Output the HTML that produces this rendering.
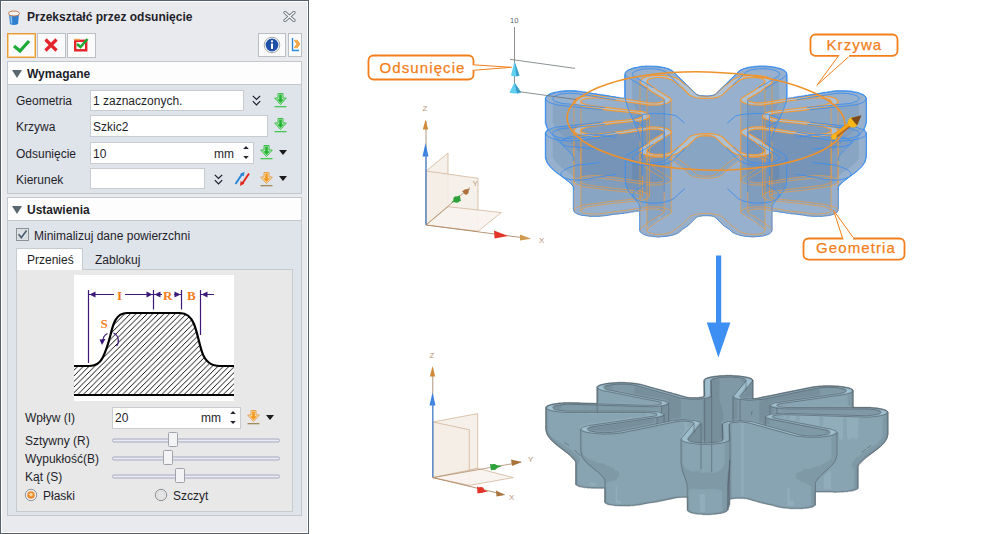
<!DOCTYPE html>
<html><head><meta charset="utf-8">
<style>
*{margin:0;padding:0;box-sizing:border-box}
html,body{width:1000px;height:534px;overflow:hidden;background:#fff;font-family:"Liberation Sans",sans-serif;font-size:12px;color:#1f1f2a}
.a{position:absolute}
#panel{left:0;top:0;width:309px;height:534px;background:#e9eaee;border:1px solid #56606b;box-shadow:inset 1px 1px 0 #fff,inset -1px -1px 0 #fff}
.btn{background:#fbfbfb;border:1px solid #b9bfc5}
.sec{left:7px;width:295px;border:1px solid #c3c8ce;background:#dfe3ea}
.sech{left:0;top:0;width:293px;height:23px;background:#fdfdfd;border-bottom:1px solid #c3c8ce}
.tri{width:0;height:0;border-left:5px solid transparent;border-right:5px solid transparent;border-top:8px solid #5b6770}
.inp{background:#fff;border:1px solid #c8ccd1}
.lbl{white-space:nowrap}
.b{font-weight:bold}
</style></head><body>
<div id="panel" class="a">
</div>
<svg width="0" height="0" style="position:absolute">
<defs>
<symbol id="dl" viewBox="0 0 13 15">
  <path d="M4 0.5 H9 V5 H12.3 L6.5 11.5 L0.7 5 H4 Z" fill="#bfe8c0" stroke="#3cbf4a" stroke-width="1"/>
  <path d="M5.2 1.5 H7.8 V6.3 H9.8 L6.5 10 L3.2 6.3 H5.2 Z" fill="#26b437"/>
  <rect x="0.5" y="13" width="12" height="1.3" fill="#4cc557"/>
</symbol>
<symbol id="dlo" viewBox="0 0 13 15">
  <path d="M4 0.5 H9 V5 H12.3 L6.5 11.5 L0.7 5 H4 Z" fill="#fde3b5" stroke="#e2a052" stroke-width="1"/>
  <path d="M5.2 1.5 H7.8 V6.3 H9.8 L6.5 10 L3.2 6.3 H5.2 Z" fill="#f39a1e"/>
  <rect x="0.5" y="13" width="12" height="1.3" fill="#a08a5a"/>
</symbol>
<symbol id="chev" viewBox="0 0 9 11">
  <path d="M0.8 0.8 L4.5 4.5 L8.2 0.8 M0.8 6.2 L4.5 10 L8.2 6.2" fill="none" stroke="#1b1e2a" stroke-width="1.2"/>
</symbol>
<symbol id="dtri" viewBox="0 0 8 5"><path d="M0 0 H8 L4 5 Z" fill="#1b1b1b"/></symbol>
<symbol id="spin" viewBox="0 0 6 14"><path d="M0.2 3 L3 0 L5.8 3 Z M0.2 10 L3 13 L5.8 10 Z" fill="#22242c"/></symbol>
<symbol id="hatch" viewBox="0 0 1 1"></symbol>
</defs>
</svg>

<!-- title -->
<svg class="a" style="left:7px;top:10px" width="14" height="16" viewBox="0 0 14 16">
  <path d="M2 4 L3 14 Q7 16 11 14 L12 4 Z" fill="#2f7fd0"/>
  <path d="M4 5 L4.6 13.5" stroke="#8cc4f0" stroke-width="1.5"/>
  <ellipse cx="7" cy="3.5" rx="5.5" ry="2.5" fill="#f4f4f4" stroke="#c67a4a" stroke-width="1"/>
</svg>
<div class="a lbl b" style="left:27px;top:10px;font-size:12px">Przekształć przez odsunięcie</div>
<svg class="a" style="left:283px;top:11px" width="13" height="11" viewBox="0 0 13 11"><path d="M2 1.5 L11 9.5 M11 1.5 L2 9.5" stroke="#6f7880" stroke-width="3.2" stroke-linecap="round"/><path d="M2 1.5 L11 9.5 M11 1.5 L2 9.5" stroke="#fff" stroke-width="1.4" stroke-linecap="round"/></svg>

<!-- toolbar -->
<div class="a btn" style="left:7px;top:33px;width:29px;height:25px;border:1px solid #e59c3c;box-shadow:inset 0 0 0 1px #f9d08c"></div>
<svg class="a" style="left:12px;top:37px" width="20" height="18" viewBox="0 0 20 18"><path d="M2 9 L8 14 L17 4" fill="none" stroke="#1ea834" stroke-width="3.2"/></svg>
<div class="a btn" style="left:37px;top:33px;width:29px;height:25px"></div>
<svg class="a" style="left:43px;top:37px" width="16" height="16" viewBox="0 0 16 16"><path d="M2.5 2.5 L13.5 13.5 M13.5 2.5 L2.5 13.5" stroke="#e3242b" stroke-width="3.2"/></svg>
<div class="a btn" style="left:67px;top:33px;width:29px;height:25px"></div>
<svg class="a" style="left:72px;top:36px" width="20" height="18" viewBox="0 0 20 18"><rect x="3.2" y="4.8" width="11" height="9.5" fill="none" stroke="#e3242b" stroke-width="2.4"/><path d="M2 3.6 H8" stroke="#f0a050" stroke-width="1.6"/><path d="M5 8 L8.5 11 L15.5 3" fill="none" stroke="#1ea834" stroke-width="2.6"/></svg>
<div class="a btn" style="left:258px;top:33px;width:28px;height:24px"></div>
<svg class="a" style="left:263px;top:36px" width="18" height="18" viewBox="0 0 18 18"><circle cx="9" cy="9" r="7.8" fill="#fff" stroke="#8c9296" stroke-width="0.8"/><circle cx="9" cy="9" r="6.4" fill="#1f4fa8"/><rect x="8" y="7.5" width="2" height="5.5" fill="#fff"/><circle cx="9" cy="5.3" r="1.1" fill="#fff"/></svg>
<div class="a btn" style="left:288px;top:33px;width:14px;height:24px"></div>
<svg class="a" style="left:291px;top:36px" width="9" height="17" viewBox="0 0 9 17"><path d="M1.5 2 L1.5 14.5 L8 14.5" fill="none" stroke="#2d8ae0" stroke-width="1.4"/><path d="M3.5 4 L6.5 8 L3.5 12 M5.5 4 L8.5 8 L5.5 12" fill="none" stroke="#f29a2e" stroke-width="1.3"/></svg>

<!-- section 1 -->
<div class="a sec" style="top:61px;height:133px">
  <div class="a sech"></div>
</div>
<div class="a tri" style="left:12px;top:70px"></div>
<div class="a lbl b" style="left:27px;top:67px;font-size:12px">Wymagane</div>

<div class="a lbl" style="left:16px;top:94px">Geometria</div>
<div class="a inp" style="left:90px;top:90px;width:154px;height:21px"></div>
<div class="a lbl" style="left:93px;top:94px">1 zaznaczonych.</div>

<div class="a lbl" style="left:16px;top:120px">Krzywa</div>
<div class="a inp" style="left:90px;top:115px;width:178px;height:22px"></div>
<div class="a lbl" style="left:93px;top:120px">Szkic2</div>

<div class="a lbl" style="left:16px;top:147px">Odsunięcie</div>
<div class="a inp" style="left:90px;top:142px;width:164px;height:22px"></div>
<div class="a lbl" style="left:93px;top:147px">10</div>
<div class="a lbl" style="left:214px;top:147px">mm</div>

<div class="a lbl" style="left:16px;top:173px">Kierunek</div>
<div class="a inp" style="left:90px;top:168px;width:115px;height:21px"></div>

<!-- section 2 -->
<div class="a sec" style="top:197px;height:319px">
  <div class="a sech"></div>
</div>
<div class="a tri" style="left:12px;top:206px"></div>
<div class="a lbl b" style="left:27px;top:203px;font-size:12px">Ustawienia</div>



<svg class="a" style="left:252px;top:95px" width="9" height="11"><use href="#chev"/></svg>
<svg class="a" style="left:274px;top:93px" width="13" height="15"><use href="#dl"/></svg>
<svg class="a" style="left:274px;top:118px" width="13" height="15"><use href="#dl"/></svg>
<svg class="a" style="left:243px;top:146px" width="6" height="14"><use href="#spin"/></svg>
<svg class="a" style="left:260px;top:145px" width="13" height="15"><use href="#dl"/></svg>
<svg class="a" style="left:279px;top:150px" width="8" height="5"><use href="#dtri"/></svg>
<svg class="a" style="left:214px;top:174px" width="9" height="11"><use href="#chev"/></svg>
<svg class="a" style="left:234px;top:171px" width="16" height="16" viewBox="0 0 16 16">
  <path d="M1.5 13 L8.5 2.5" stroke="#2a86d6" stroke-width="2"/><path d="M10.5 0.8 L6 3 L9.8 5.5 Z" fill="#2a86d6"/>
  <path d="M15 2.5 L8 13" stroke="#e2261f" stroke-width="2"/><path d="M6 15 L10.3 12.5 L6.6 10 Z" fill="#e2261f"/>
</svg>
<svg class="a" style="left:260px;top:172px" width="13" height="15"><use href="#dlo"/></svg>
<svg class="a" style="left:279px;top:176px" width="8" height="5"><use href="#dtri"/></svg>
<!-- checkbox mark -->
<svg class="a" style="left:16px;top:228px" width="13" height="13" viewBox="0 0 13 13">
 <rect x="0.5" y="0.5" width="12" height="12" fill="#e9ecef" stroke="#8b9194"/>
 <rect x="2" y="2" width="9" height="9" fill="#dde2e6" stroke="#c4cace" stroke-width="0.6"/>
 <path d="M2.6 6.3 L5.3 9.6 L10.6 2.5" fill="none" stroke="#4c5f70" stroke-width="1.6"/>
</svg>
<div class="a lbl" style="left:34px;top:229px">Minimalizuj dane powierzchni</div>

<!-- tabs -->
<div class="a" style="left:16px;top:269px;width:277px;height:243px;border:1px solid #c6cbd0;background:#e8e8e8"></div>
<div class="a" style="left:16px;top:248px;width:67px;height:22px;border:1px solid #c6cbd0;border-bottom:none;background:#fdfdfd"></div>
<div class="a lbl" style="left:27px;top:253px">Przenieś</div>
<div class="a lbl" style="left:95px;top:253px">Zablokuj</div>


<svg class="a" style="left:74px;top:275px" width="160" height="126" viewBox="0 0 160 126">
<defs><pattern id="hp" patternUnits="userSpaceOnUse" width="5.6" height="5.6"><path d="M-1.4 1.4 L1.4 -1.4 M0 5.6 L5.6 0 M4.2 7 L7 4.2" stroke="#000" stroke-width="1" shape-rendering="crispEdges"/></pattern></defs>
<rect width="160" height="126" fill="#fff"/>
<path d="M0 91 L15 91 C22 91 26 88 28.5 83 C31.5 77 34 70 36.5 60 C39 49 42 38 53 38 L106 38 C113 38 117 42 120 49 C123.5 58 125 68 128 77 C131 86 136 91 146 91 L160 91 L160 120 L0 120 Z" fill="url(#hp)"/>
<path d="M0 91 L15 91 C22 91 26 88 28.5 83 C31.5 77 34 70 36.5 60 C39 49 42 38 53 38 L106 38 C113 38 117 42 120 49 C123.5 58 125 68 128 77 C131 86 136 91 146 91 L160 91" fill="none" stroke="#000" stroke-width="2.2"/>
<path d="M0 120 L160 120" stroke="#000" stroke-width="2"/>
<g stroke="#3d1a78" stroke-width="1.2" fill="none">
 <path d="M14.5 15 V88 M79.5 15 V34.5 M107.5 15 V34.5 M126.5 15 V60"/>
 <path d="M15 19.5 H40 M51 19.5 H79 M80 19.5 H88 M100 19.5 H107 M127 19.5 H140"/>
 <path d="M29 66 A8 8 0 0 1 33.5 58.5 M39.5 58 A8.5 8.5 0 0 1 42.5 71"/>
</g>
<g fill="#3d1a78">
 <path d="M15.5 19.5 L21.5 16.5 L21.5 22.5 Z M78.5 19.5 L72.5 16.5 L72.5 22.5 Z M80.5 19.5 L86.5 16.5 L86.5 22.5 Z M106.5 19.5 L100.5 16.5 L100.5 22.5 Z M127.5 19.5 L133.5 16.5 L133.5 22.5 Z"/>
 <path d="M25.5 64.5 L31.5 64 L28 70 Z"/>
</g>
<g fill="#f57b1a" font-family="Liberation Serif" font-weight="bold" font-size="13">
 <text x="43" y="25">I</text><text x="89" y="25">R</text><text x="113" y="25">B</text><text x="26.5" y="53">S</text>
</g>
</svg>


<div class="a lbl" style="left:25px;top:411px">Wpływ (I)</div>
<div class="a inp" style="left:112px;top:407px;width:129px;height:22px"></div>
<div class="a lbl" style="left:115px;top:411px">20</div>
<div class="a lbl" style="left:201px;top:411px">mm</div>

<div class="a lbl" style="left:25px;top:434px">Sztywny (R)</div>
<div class="a lbl" style="left:25px;top:452px">Wypukłość(B)</div>
<div class="a lbl" style="left:25px;top:470px">Kąt (S)</div>
<div class="a lbl" style="left:43px;top:489px">Płaski</div>
<div class="a lbl" style="left:173px;top:489px">Szczyt</div>


<svg class="a" style="left:230px;top:411px" width="6" height="14"><use href="#spin"/></svg>
<svg class="a" style="left:247px;top:410px" width="13" height="15"><use href="#dlo"/></svg>
<svg class="a" style="left:266px;top:415px" width="8" height="5"><use href="#dtri"/></svg>
<svg class="a" style="left:110px;top:430px" width="172" height="56" viewBox="0 0 172 56">
 <g fill="#e9eaf2" stroke="#a7a9bf" stroke-width="1">
  <rect x="2.5" y="9" width="167" height="3" rx="1.5"/>
  <rect x="2.5" y="27" width="167" height="3" rx="1.5"/>
  <rect x="2.5" y="45" width="167" height="3" rx="1.5"/>
 </g>
 <g fill="#f3f3f5" stroke="#9fa3ad" stroke-width="1">
  <rect x="58.5" y="2.5" width="9" height="14" rx="1"/>
  <rect x="53.5" y="20.5" width="9" height="14" rx="1"/>
  <rect x="65.5" y="38.5" width="9" height="14" rx="1"/>
 </g>
</svg>
<svg class="a" style="left:24px;top:488px" width="14" height="14" viewBox="0 0 14 14">
 <circle cx="7" cy="7" r="5.7" fill="#f2f2f2" stroke="#8d9296" stroke-width="1"/>
 <circle cx="7" cy="7" r="3.8" fill="#e98a2c"/><circle cx="7" cy="6.6" r="1.8" fill="#ffd49a"/>
</svg>
<svg class="a" style="left:154px;top:488px" width="14" height="14" viewBox="0 0 14 14">
 <circle cx="7" cy="7" r="5.7" fill="#ececec" stroke="#8d9296" stroke-width="1"/>
 <circle cx="7" cy="7" r="4.2" fill="#e4e4e4" stroke="#d0d0d0" stroke-width="0.6"/>
</svg>
<svg class="a" style="left:0;top:0" width="1000" height="534" viewBox="0 0 1000 534">
<path fill="#96b0cd" d="M545.7 97.3 545.7 98.0 545.3 98.3 545.3 123.3 545.7 123.7 546.0 125.7 547.3 128.3 547.3 130.0 546.0 131.3 545.3 133.0 545.3 158.0 545.7 158.3 545.7 159.3 546.7 161.3 546.7 162.0 547.3 162.7 549.0 165.7 554.7 171.3 568.3 181.3 572.7 185.7 573.3 187.0 573.3 209.0 573.7 209.3 573.7 211.0 574.0 211.7 575.0 212.7 577.3 214.0 578.0 214.0 579.0 214.7 581.3 215.0 581.7 215.3 585.7 215.7 586.0 216.0 588.7 216.0 589.0 216.3 600.3 216.3 600.7 216.0 606.0 215.7 606.3 215.3 608.3 215.3 608.7 215.0 612.7 214.7 613.0 214.3 615.3 214.3 615.7 214.0 618.7 214.0 619.0 213.7 624.3 213.3 624.7 213.0 629.0 212.7 630.3 212.0 633.0 212.0 634.3 211.3 639.0 211.0 639.7 211.7 639.7 230.7 640.0 231.0 640.0 231.7 641.7 233.3 642.7 233.7 643.3 234.3 645.0 234.7 646.0 235.3 647.0 235.3 648.3 236.0 652.7 236.3 653.0 236.7 656.3 236.7 656.7 237.0 660.3 237.0 660.7 236.7 665.0 236.7 665.3 236.3 667.3 236.3 667.7 236.0 669.3 236.0 670.7 235.3 672.3 235.3 672.7 235.0 674.3 234.7 678.7 232.7 682.3 229.3 688.0 225.7 691.7 222.0 692.0 222.0 692.3 221.3 693.0 221.0 696.3 217.3 698.7 216.3 702.0 216.0 702.3 215.7 710.0 215.7 710.3 216.0 713.3 216.3 715.3 217.3 716.7 218.7 716.7 219.0 723.7 225.7 729.3 229.3 732.0 232.0 736.3 234.3 737.3 234.3 741.0 235.7 743.0 235.7 744.3 236.3 750.7 236.7 751.0 237.0 754.7 237.0 755.0 236.7 758.0 236.7 758.3 236.3 760.3 236.3 760.7 236.0 763.0 236.0 765.7 235.0 766.7 235.0 767.7 234.3 769.0 234.0 771.7 231.7 771.7 230.7 772.0 230.3 772.0 211.3 772.3 211.0 776.3 211.3 776.7 211.7 778.3 211.7 778.7 212.0 780.3 212.0 780.7 212.3 783.0 212.3 783.3 212.7 787.3 213.0 787.7 213.3 789.7 213.3 790.0 213.7 796.3 214.0 796.7 214.3 803.3 215.0 803.7 215.3 807.7 215.7 808.0 216.0 810.7 216.0 811.0 216.3 823.3 216.3 823.7 216.0 828.3 215.7 828.7 215.3 830.0 215.3 831.3 214.7 833.7 214.3 836.3 213.0 838.0 211.0 838.0 209.3 838.3 209.0 838.3 187.0 839.0 185.7 843.3 181.3 857.0 171.3 862.7 165.7 865.0 162.0 865.0 161.3 866.0 159.3 866.0 158.0 866.3 157.7 866.3 133.3 866.0 133.0 865.7 131.3 864.3 130.0 864.3 128.3 865.7 125.7 866.0 123.3 866.3 123.0 866.3 98.3 866.0 98.0 866.0 97.0 864.0 95.0 863.0 94.7 862.3 94.0 861.7 94.0 860.7 93.3 860.0 93.3 858.7 92.7 857.3 92.7 856.3 92.0 854.7 92.0 854.3 91.7 853.0 91.7 852.7 91.3 851.3 91.3 851.0 91.0 848.0 91.0 847.7 90.7 835.3 90.7 835.0 91.0 832.3 91.0 830.7 91.7 828.3 91.7 826.7 92.3 824.0 92.3 823.7 92.7 821.7 92.7 821.3 93.0 820.0 93.0 819.7 93.3 817.7 93.3 817.3 93.7 815.7 93.7 815.3 94.0 813.3 94.0 811.7 94.7 809.3 94.7 807.7 95.3 805.3 95.3 804.0 96.0 801.0 96.0 800.7 96.3 798.7 96.3 798.3 96.7 797.0 96.7 796.7 97.0 794.7 97.0 794.3 97.3 793.0 97.3 792.7 97.7 790.7 97.7 790.3 98.0 787.3 98.3 787.0 98.0 787.0 75.7 786.7 75.3 786.7 73.0 785.7 71.3 784.3 70.3 781.0 68.7 780.3 68.7 779.0 68.0 777.3 68.0 776.3 67.3 775.0 67.3 774.7 67.0 770.7 66.7 770.3 66.3 767.7 66.3 767.3 66.0 757.3 66.0 757.0 66.3 753.7 66.3 753.3 66.7 751.3 66.7 751.0 67.0 747.7 67.3 746.3 68.0 745.3 68.0 745.0 68.3 743.3 68.7 741.7 69.7 741.0 69.7 739.3 70.7 734.0 76.0 733.7 76.0 733.3 76.7 732.7 77.0 723.0 86.7 722.7 86.7 716.0 93.3 715.7 94.0 714.0 95.0 713.0 95.0 711.3 95.7 709.3 95.7 709.0 96.0 703.7 96.0 703.3 95.7 700.3 95.7 700.0 95.3 698.7 95.3 696.0 94.0 695.3 93.0 678.3 76.3 678.0 76.3 672.3 70.7 670.0 69.3 669.3 69.3 668.3 68.7 667.7 68.7 666.3 68.0 663.7 67.7 663.3 67.3 662.0 67.3 661.7 67.0 660.3 67.0 660.0 66.7 658.3 66.7 658.0 66.3 655.3 66.3 655.0 66.0 644.7 66.0 644.3 66.3 641.0 66.3 640.7 66.7 639.3 66.7 639.0 67.0 637.7 67.0 637.3 67.3 634.0 67.7 627.3 70.3 625.3 72.3 625.0 73.0 625.0 75.0 624.7 75.3 624.7 97.7 624.3 98.0 620.7 98.0 619.0 97.3 616.7 97.3 615.0 96.7 613.0 96.7 612.7 96.3 611.0 96.3 610.7 96.0 609.0 96.0 608.7 95.7 607.0 95.7 606.7 95.3 604.7 95.3 604.3 95.0 601.7 95.0 600.3 94.3 597.7 94.3 596.0 93.7 594.0 93.7 593.7 93.3 590.0 93.0 589.7 92.7 588.0 92.7 587.7 92.3 586.0 92.3 585.7 92.0 582.7 92.0 581.3 91.3 579.0 91.3 578.7 91.0 576.7 91.0 576.3 90.7 563.7 90.7 563.3 91.0 561.0 91.0 560.7 91.3 559.3 91.3 559.0 91.7 557.7 91.7 557.3 92.0 554.0 92.3 553.7 92.7 550.0 93.7 549.3 94.3 547.7 95.0Z"/>
<path fill="#89a5c4" d="M658.0 218.7 658.0 220.7 658.7 220.7 658.7 218.7ZM553.0 100.7 553.3 102.7 552.7 103.7 552.7 122.3 555.0 127.0 554.3 128.0 552.0 128.7 550.7 130.0 550.3 129.3 549.7 129.3 549.7 130.7 551.3 131.7 551.3 132.7 552.0 133.0 553.3 137.0 552.7 138.7 552.7 157.0 555.7 162.3 561.0 167.0 573.3 176.0 574.0 177.7 574.0 180.7 575.0 181.0 574.3 181.3 574.3 182.0 575.7 181.7 577.7 184.3 580.3 185.7 581.0 188.3 580.7 189.0 581.0 191.3 580.7 191.7 581.0 193.3 580.7 194.3 580.7 199.3 581.0 199.7 580.7 204.7 581.3 206.0 581.3 208.0 582.3 207.7 582.3 206.0 583.0 205.3 583.7 207.3 584.3 207.3 585.3 206.3 585.7 206.7 587.0 206.3 587.3 204.7 587.7 206.0 588.3 206.0 588.3 205.0 589.0 204.3 589.3 205.7 592.3 205.7 592.3 204.7 593.0 203.7 593.7 204.3 593.7 205.3 596.0 205.3 596.7 203.7 597.0 205.0 598.7 205.0 599.3 203.7 599.7 204.0 600.7 203.7 601.0 204.3 604.3 204.0 604.3 203.0 605.0 202.3 605.7 202.7 605.7 203.7 608.7 203.3 609.3 202.3 610.0 203.3 615.3 202.3 617.0 202.7 618.0 202.0 618.7 200.7 619.3 201.3 619.3 202.3 620.0 202.3 621.0 201.0 621.7 202.0 622.3 202.0 622.3 201.0 623.0 200.3 623.3 201.7 625.0 201.7 625.7 200.3 626.3 201.3 627.0 201.3 627.7 200.0 628.3 200.3 628.3 201.3 629.3 201.7 629.3 200.3 630.0 199.3 630.7 199.7 631.0 201.0 633.0 201.0 633.7 199.7 634.0 200.3 637.0 201.3 638.3 202.7 639.3 204.7 639.7 207.3 640.3 208.3 640.3 210.0 641.3 210.0 642.3 208.0 643.0 208.7 643.0 209.7 644.7 209.3 645.3 208.0 645.7 209.3 647.0 210.0 647.0 223.7 647.7 224.3 647.7 227.3 648.7 227.0 648.7 223.0 649.3 222.0 650.0 222.7 649.7 226.0 651.0 226.0 651.7 225.7 652.0 224.7 652.0 221.0 652.3 220.7 652.7 221.0 652.7 224.3 653.3 224.3 654.0 223.3 653.7 219.7 654.3 219.0 654.7 222.3 655.3 222.3 656.0 221.0 657.0 221.3 657.3 220.7 657.0 218.0 657.7 216.7 658.0 218.0 658.7 218.0 658.7 216.7 659.3 216.0 660.3 216.3 660.7 215.0 661.0 215.3 661.0 218.7 661.7 218.7 663.3 217.3 664.0 215.7 665.3 216.0 666.0 213.0 666.3 215.0 667.3 215.0 668.0 214.0 669.3 214.0 670.7 212.3 671.0 211.3 671.0 179.3 671.3 179.0 671.0 159.3 671.3 156.7 672.0 156.0 674.0 156.3 674.3 155.0 675.0 155.3 675.3 158.3 673.7 160.0 673.7 160.7 677.7 164.0 682.0 166.7 688.3 172.7 689.7 174.7 690.7 174.3 691.7 175.7 693.0 176.0 693.0 175.0 693.7 174.3 694.0 176.7 695.0 176.7 694.7 175.0 695.3 174.7 696.0 177.0 698.0 176.7 699.0 177.7 700.3 177.3 702.3 177.7 702.3 177.0 703.3 176.7 703.7 178.0 706.7 177.7 707.0 176.3 707.7 177.0 707.7 178.0 709.0 178.0 710.0 177.3 711.0 177.7 711.3 176.3 711.7 177.7 712.7 177.7 713.3 175.7 714.0 177.3 715.7 177.0 716.3 175.7 717.0 176.3 717.7 176.3 718.0 175.3 718.7 176.0 720.3 175.7 729.0 167.3 737.3 161.3 737.7 159.7 736.3 158.3 736.0 156.3 736.7 156.0 737.0 156.7 738.0 156.7 739.7 156.0 740.3 156.7 740.7 159.7 740.3 161.7 740.7 210.7 741.7 213.3 743.0 212.7 743.7 213.3 743.7 214.7 744.7 214.7 745.0 213.0 745.7 213.7 745.7 215.7 746.7 216.0 747.0 214.3 747.7 217.0 748.7 217.0 749.3 218.0 750.0 218.0 750.3 214.7 751.0 215.7 750.7 218.3 751.7 218.3 751.3 216.3 752.0 215.7 752.3 216.0 752.3 219.3 753.0 219.3 753.3 216.7 754.0 217.3 753.7 219.7 754.0 221.0 756.3 221.7 756.7 219.0 757.3 223.7 758.3 223.7 758.7 222.3 759.0 224.7 760.0 225.7 760.7 225.7 760.7 221.7 761.0 221.3 761.7 222.0 761.7 226.0 762.7 227.3 764.0 227.3 764.0 224.7 764.7 223.7 764.7 210.0 765.7 208.7 766.3 209.3 767.3 209.3 768.0 207.7 768.7 208.3 768.7 209.7 770.7 210.0 771.7 207.7 772.3 204.3 774.0 202.0 776.3 200.0 777.3 201.0 779.7 200.7 779.7 199.7 780.3 199.3 781.3 201.3 782.0 201.3 782.7 200.3 783.3 201.3 784.3 201.3 785.0 200.0 785.7 201.3 786.3 201.3 786.7 200.3 787.3 201.7 789.0 202.0 789.3 200.7 789.7 202.0 791.3 202.0 791.7 201.0 792.0 202.3 795.7 202.7 795.7 201.7 796.3 201.0 798.0 203.0 799.0 203.0 799.7 201.7 800.3 203.0 805.3 203.7 805.3 202.7 806.0 202.3 806.3 204.0 807.0 204.0 807.7 202.3 808.3 203.0 808.3 204.3 809.3 204.0 810.3 204.3 810.7 203.0 812.3 204.7 816.3 205.0 817.0 203.7 817.7 205.0 818.3 205.0 818.7 205.7 820.7 205.7 821.0 204.7 821.7 205.7 823.3 205.7 823.7 204.3 824.0 206.3 825.0 206.3 825.3 205.0 826.3 207.0 827.0 207.0 828.0 206.0 828.7 208.0 830.0 208.0 831.0 203.0 830.7 202.0 831.0 200.3 830.7 199.3 830.7 194.7 831.0 194.3 830.7 187.7 831.0 186.3 832.3 185.0 836.3 183.3 837.3 182.0 837.3 181.0 838.0 180.0 837.7 177.3 838.3 176.0 854.0 164.3 858.0 159.7 859.0 157.0 858.7 135.7 859.7 134.0 859.7 132.3 860.0 132.0 861.0 132.3 861.7 129.7 861.3 129.0 858.7 128.0 857.7 128.0 857.0 130.0 856.7 129.7 856.7 127.0 859.0 122.3 859.0 104.0 858.7 102.3 857.7 102.3 857.3 103.7 856.7 102.7 856.7 101.7 856.0 101.7 855.7 103.3 855.0 104.0 854.7 102.7 854.0 102.7 853.3 103.7 853.0 103.0 852.3 103.0 851.7 104.7 851.3 103.7 849.7 103.7 849.0 105.3 848.3 104.0 847.3 104.0 846.7 105.3 846.3 104.0 845.0 104.0 844.7 105.3 844.0 105.0 844.0 104.3 843.0 104.3 843.0 105.3 842.3 106.0 841.7 104.7 840.7 104.7 840.0 106.3 839.3 105.7 839.3 104.7 838.3 104.7 838.0 106.3 837.3 105.0 836.3 105.0 835.7 106.3 835.0 105.3 833.7 105.3 833.3 106.3 832.7 105.3 832.0 105.3 831.3 107.0 830.7 107.0 830.0 105.7 828.7 106.0 827.7 105.7 826.7 107.7 826.0 107.3 825.7 106.0 824.0 106.0 822.7 107.7 822.0 107.3 821.7 106.3 820.7 106.3 819.7 108.3 819.0 108.0 818.7 106.7 817.0 106.7 816.3 107.0 815.7 108.7 815.0 108.7 814.7 107.3 813.7 107.0 812.3 107.7 811.7 109.0 811.0 109.0 810.7 107.7 809.7 107.3 808.7 109.3 808.0 109.0 808.0 108.0 806.3 108.3 805.0 108.0 805.0 109.0 804.3 109.7 803.7 109.3 803.3 108.3 801.0 108.3 800.0 110.0 799.3 109.7 799.3 108.7 798.0 108.3 797.3 110.0 796.0 109.3 795.7 110.3 795.0 110.0 795.0 109.0 794.0 109.0 793.0 111.0 792.0 110.7 792.0 109.3 790.7 109.3 789.3 110.0 789.0 111.3 788.0 111.0 788.0 109.7 787.0 109.7 785.7 110.3 785.0 111.3 784.3 111.3 783.7 110.0 783.7 108.3 785.7 102.7 785.7 100.7 784.3 101.0 784.0 99.7 782.0 99.7 781.7 101.0 781.0 101.3 780.7 100.3 779.3 99.7 779.0 76.3 778.0 76.7 778.0 80.0 777.3 80.7 776.7 80.3 777.0 77.7 776.0 77.3 775.3 78.7 775.7 80.3 775.0 81.3 774.7 79.0 772.7 79.7 772.0 80.7 769.7 81.7 770.0 84.7 769.3 85.3 769.0 83.0 767.3 83.3 767.0 86.7 766.7 83.7 766.0 83.7 766.0 85.3 765.3 86.0 765.0 84.7 763.0 85.0 762.3 86.3 758.7 87.7 757.3 89.0 757.0 90.0 756.0 90.0 756.0 90.7 755.0 91.0 754.7 92.0 754.3 91.0 752.7 91.7 753.0 94.0 752.7 94.3 752.0 94.0 752.0 92.7 751.3 92.7 751.0 95.0 750.7 93.3 749.7 93.3 750.3 95.7 750.0 96.3 749.3 95.7 749.3 94.7 748.3 94.3 748.7 96.3 748.3 97.0 747.7 96.3 747.7 95.3 746.3 95.3 745.0 96.7 743.3 97.0 741.3 98.7 740.7 100.3 740.7 133.7 740.3 134.0 740.3 144.7 740.7 145.0 740.3 145.3 740.3 154.0 739.3 154.3 737.3 152.0 736.7 152.0 735.3 150.0 722.7 138.3 721.7 136.7 718.7 135.7 718.0 137.0 717.7 135.0 716.3 135.3 715.7 134.3 714.0 134.3 713.7 135.7 713.3 134.0 711.3 134.0 711.0 134.7 710.3 133.7 709.7 133.7 708.3 135.0 708.0 134.0 707.3 134.0 707.0 134.7 704.3 135.0 704.0 134.0 703.3 133.7 702.3 134.0 701.0 133.7 700.3 134.3 698.7 134.0 698.3 136.0 697.7 134.3 696.3 134.3 695.3 135.3 694.0 135.3 693.7 136.3 693.0 135.7 691.3 136.0 690.7 137.0 689.7 137.0 678.7 148.3 678.0 148.3 676.3 150.7 675.0 151.3 674.3 153.7 673.3 153.3 672.0 154.3 671.3 153.7 671.0 100.7 670.3 99.7 670.3 98.7 669.3 97.7 668.0 98.0 667.0 96.3 665.0 96.0 664.3 96.7 664.0 96.3 664.3 94.7 663.3 94.7 663.3 95.3 662.7 95.7 662.3 93.7 660.0 93.0 659.7 92.0 659.0 92.0 658.7 93.3 658.3 92.0 657.0 91.7 656.7 90.0 655.3 89.7 654.3 88.7 653.0 88.7 652.3 87.3 650.7 87.0 650.7 88.3 651.7 88.0 652.3 88.7 651.7 90.3 650.0 90.3 648.3 88.7 648.3 88.0 649.3 87.7 649.3 86.0 648.7 86.0 648.3 85.0 647.3 85.0 645.7 83.7 645.0 83.7 644.3 82.7 643.7 82.7 642.7 81.7 642.0 81.7 641.7 85.0 641.3 82.0 640.7 82.0 640.7 83.3 640.3 83.7 640.0 83.3 640.0 80.3 639.3 80.3 639.0 81.3 638.3 79.0 637.7 79.0 637.7 79.7 637.0 80.0 636.7 78.3 635.7 78.0 635.3 80.7 634.7 80.0 634.7 77.3 633.7 76.3 632.7 76.3 632.7 79.7 632.0 80.3 632.3 99.7 632.0 100.0 629.0 99.7 628.3 101.0 627.3 99.3 626.0 99.3 626.0 103.3 628.3 108.7 628.3 110.0 628.0 110.3 625.3 110.0 624.7 111.7 623.7 111.0 623.7 109.7 620.7 109.7 620.7 110.7 620.0 111.0 619.0 109.0 617.7 109.3 617.0 110.3 616.0 110.3 615.0 108.7 614.0 108.7 614.0 109.7 613.3 110.3 612.3 108.7 610.0 108.3 609.7 109.7 608.7 110.0 608.0 108.0 606.0 108.0 606.0 109.0 605.3 109.3 603.7 107.3 602.7 107.7 602.7 108.7 602.0 109.3 601.3 108.7 601.3 107.7 600.3 107.3 598.3 107.3 598.3 108.3 597.7 109.0 597.0 108.3 597.0 107.0 594.0 107.0 593.7 108.0 593.0 108.3 592.7 106.7 591.3 106.7 590.7 107.7 589.7 107.7 589.3 106.7 588.0 106.0 587.0 106.3 587.0 107.3 586.3 108.0 585.7 107.3 585.7 106.0 583.3 105.7 582.7 106.0 582.7 107.0 582.0 107.3 581.3 105.3 579.3 105.7 577.7 105.3 577.7 106.3 577.0 106.7 576.3 105.0 575.7 105.0 575.3 106.7 575.0 105.0 573.3 105.0 573.0 106.3 572.0 104.7 571.3 104.7 571.0 105.3 570.3 104.3 569.3 104.3 569.3 105.3 568.7 106.0 568.0 104.7 567.3 104.7 567.3 105.3 566.3 105.7 566.0 103.7 563.7 104.0 563.0 105.3 562.3 103.7 560.7 103.3 560.7 104.0 560.0 104.3 559.7 103.7 558.7 104.0 558.0 102.7 556.7 102.3 555.7 102.7 555.3 104.0 555.0 101.7ZM662.3 214.3 662.7 214.7 662.3 216.7 662.0 216.3ZM748.7 213.7 749.3 214.3 749.0 216.0 748.3 215.0ZM743.3 209.7 744.0 211.0 743.7 212.0 743.0 211.7ZM666.7 209.0 667.3 210.0 667.3 211.7 666.7 213.0 666.3 212.7 666.7 211.3 666.3 209.3ZM655.7 92.0 656.0 91.7 656.3 92.7 657.3 92.7 657.7 93.3 656.0 93.7ZM758.0 89.7 758.7 91.0 758.3 91.7 756.7 91.0 757.7 90.7ZM652.7 90.0 654.0 89.7 654.3 90.7 655.0 91.0 654.0 91.3 653.7 90.3ZM762.7 87.7 762.3 89.3 760.7 89.7 760.3 90.3 759.0 90.0 759.7 89.7 759.7 89.0 759.0 88.7 759.7 88.0 762.0 88.0 762.3 87.3Z"/>
<path fill="#809dbe" d="M854.0 127.0 845.7 126.0 844.0 127.3 843.3 125.3 842.7 125.3 842.0 126.3 840.7 125.7 840.0 126.7 839.7 125.3 838.0 125.3 837.7 126.3 837.3 125.0 836.3 125.0 835.7 125.7 834.0 125.0 833.3 126.0 833.0 124.7 831.0 125.0 829.3 124.7 828.3 125.3 827.7 124.0 827.0 124.0 827.0 124.7 826.0 125.3 825.3 124.0 824.7 124.0 824.3 124.7 823.7 123.7 822.7 123.7 822.3 125.0 821.7 125.3 821.3 123.3 820.7 123.3 819.7 125.0 819.0 124.3 819.0 123.3 818.0 123.3 817.7 124.0 817.0 123.0 816.0 123.0 815.3 124.7 815.0 123.0 813.3 122.7 813.7 123.7 813.0 124.3 812.3 124.0 812.0 122.7 810.7 123.0 809.7 122.3 806.7 122.3 806.3 123.7 805.7 123.0 805.7 122.0 805.0 122.0 804.0 123.0 803.0 121.3 802.3 121.3 802.0 122.0 801.0 122.0 799.3 121.0 798.0 121.0 797.3 123.0 796.0 121.0 793.7 120.7 793.0 122.7 792.0 120.7 789.3 120.3 789.0 121.7 788.3 122.0 787.7 120.3 786.3 120.0 785.3 121.7 783.0 119.3 782.3 119.3 782.0 121.3 781.3 121.7 780.7 120.7 780.7 119.3 779.7 119.3 779.3 118.0 780.3 117.0 781.7 112.3 780.7 111.7 780.7 110.7 778.3 110.7 778.0 112.0 777.3 111.0 775.7 110.3 778.3 103.0 778.0 101.0 777.3 101.0 777.0 102.3 776.3 100.7 774.7 100.7 773.0 102.3 772.3 102.0 772.3 101.3 770.0 101.7 769.7 103.3 769.0 103.0 768.7 102.0 767.3 101.7 766.7 103.3 766.3 102.3 765.7 102.3 765.3 103.0 763.0 102.7 761.0 104.0 760.7 103.3 758.3 103.3 758.0 104.3 757.0 104.0 756.7 103.0 755.7 103.0 755.3 104.0 754.7 103.0 754.0 103.0 753.3 104.0 752.7 103.0 751.0 103.3 750.7 102.0 748.3 101.3 748.3 103.3 747.7 104.0 748.0 107.3 747.7 107.7 748.0 110.3 747.7 110.7 748.0 111.7 747.7 112.0 748.0 113.0 747.7 113.7 748.0 116.0 747.7 116.7 748.0 119.7 747.7 120.3 748.0 121.3 747.7 127.3 746.7 128.3 745.7 128.3 744.3 129.3 742.7 129.7 742.3 131.0 741.3 131.3 741.0 133.0 741.0 154.7 740.7 155.0 741.3 159.7 741.0 178.3 741.3 180.3 742.3 181.7 743.0 181.7 743.0 178.3 743.3 177.3 744.0 177.0 744.3 177.3 744.0 177.7 744.3 182.3 746.0 183.3 747.0 183.3 747.7 184.3 747.7 207.7 748.3 208.7 748.3 210.0 749.0 210.0 749.0 208.7 749.7 208.0 750.3 209.3 753.3 209.0 753.7 208.0 759.7 208.3 760.0 207.7 760.7 208.3 764.0 208.7 765.0 206.3 765.3 203.3 766.3 201.0 768.0 199.3 770.7 200.3 772.0 199.7 772.7 200.3 774.3 200.7 776.0 198.7 777.0 198.7 783.0 192.0 784.3 192.0 785.0 190.0 786.3 191.3 789.0 191.3 789.7 190.7 791.3 191.0 791.7 189.3 792.3 190.7 794.0 191.0 794.0 189.7 794.7 189.0 795.3 189.7 795.3 190.7 796.7 190.3 797.0 189.0 797.7 189.3 797.7 190.3 799.0 190.3 800.0 189.7 802.7 190.0 803.3 189.3 804.0 189.7 807.3 189.3 809.0 188.7 811.3 188.7 812.7 188.0 813.0 188.3 816.0 188.0 817.7 187.3 819.3 187.7 821.3 186.7 822.0 187.3 823.3 187.3 824.0 186.7 825.3 187.0 826.3 185.0 826.7 186.7 827.7 186.7 828.3 185.0 828.7 186.0 830.0 186.0 830.7 185.3 831.0 183.3 834.7 178.7 836.0 178.3 838.0 175.7 837.7 160.0 838.3 156.7 840.0 154.0 845.0 148.3 846.0 148.3 847.0 146.7 853.7 141.0 854.3 140.0 854.3 138.3 856.3 137.3 856.3 136.7 855.0 137.3 853.7 137.3 853.0 139.3 852.7 138.0 852.0 138.0 851.7 139.0 851.3 138.0 849.7 138.3 848.7 140.0 848.3 139.7 848.7 138.3 847.3 138.7 846.7 138.0 854.0 130.7 854.3 130.0ZM750.7 208.3 751.0 207.7 753.3 208.0 751.7 208.7ZM744.7 157.7 746.7 157.3 747.3 157.7 747.0 160.7 745.3 160.0 744.3 159.0ZM743.7 132.3 744.3 133.7 744.0 134.7 743.3 134.3 743.0 133.3ZM744.7 130.0 745.3 131.0 745.0 131.7 743.7 130.7ZM556.3 127.0 556.3 128.0 557.3 130.0 565.3 138.3 565.0 138.7 562.3 138.3 562.0 139.3 561.7 138.7 560.7 139.0 560.3 138.0 557.7 137.7 557.0 136.7 556.3 136.7 556.0 138.0 557.3 140.3 559.0 142.0 559.7 142.0 569.7 151.7 573.0 156.3 574.0 158.3 573.7 160.0 573.7 167.0 574.0 167.3 573.7 175.3 574.3 177.0 575.3 178.0 577.0 178.7 580.0 182.0 581.3 185.7 585.3 186.3 586.0 187.0 587.0 187.0 587.3 185.7 587.7 187.0 588.3 187.0 588.3 186.0 589.0 185.7 589.3 187.0 590.0 187.0 590.3 186.3 591.0 187.7 593.0 187.7 593.0 186.7 593.7 186.3 594.0 187.3 595.0 188.0 596.0 187.7 598.0 188.3 599.3 188.0 600.3 188.7 601.7 188.3 602.7 189.0 605.0 189.3 606.3 189.0 607.3 189.7 608.3 189.3 612.3 190.3 614.0 190.0 616.0 190.7 617.0 189.3 617.7 190.7 618.3 190.7 618.7 189.7 619.7 191.0 622.7 191.0 623.3 189.7 623.7 191.3 625.3 191.3 625.3 190.3 626.0 190.0 626.7 191.7 627.3 191.7 627.7 191.0 629.3 193.0 630.0 193.0 631.0 194.0 631.3 195.3 635.0 199.0 635.7 199.0 636.7 200.0 637.3 200.0 637.7 199.0 638.3 200.3 640.7 200.3 641.0 198.0 641.3 197.7 641.7 198.0 641.7 199.7 642.3 199.7 642.7 198.0 643.3 199.3 644.7 200.0 645.7 201.7 647.3 207.0 647.3 208.7 652.7 208.3 654.0 207.0 654.3 208.3 656.7 208.0 657.7 208.3 658.0 207.7 659.3 207.7 659.7 208.0 659.0 208.3 659.0 209.0 663.0 210.0 664.0 207.3 663.7 205.7 664.0 205.3 664.0 191.7 663.7 191.3 664.0 190.7 664.0 184.3 665.0 182.3 665.3 183.0 666.3 183.0 667.7 182.0 669.0 182.0 670.3 180.7 670.3 179.7 669.7 179.7 669.3 178.7 669.7 178.3 670.7 178.7 670.3 159.3 671.0 156.3 670.7 154.7 670.7 133.0 670.0 130.7 669.3 130.0 668.0 130.0 667.3 129.0 666.0 128.3 664.7 128.7 664.0 127.3 664.0 104.0 663.3 103.3 663.3 101.7 662.7 101.7 662.0 103.0 661.3 102.3 659.7 102.3 659.0 103.7 658.3 102.7 656.7 103.0 656.3 104.0 655.7 103.7 655.7 103.0 653.0 103.3 650.3 103.0 650.0 103.7 648.0 102.7 646.3 102.7 646.0 104.0 645.3 103.3 645.3 102.0 644.7 102.0 644.0 104.0 643.3 103.3 643.3 102.3 642.3 101.3 641.7 101.3 641.3 102.7 641.0 101.7 640.3 101.7 640.0 102.7 639.3 101.3 636.3 101.0 636.0 102.7 635.3 100.7 633.3 100.3 633.3 103.3 634.0 105.7 636.3 110.0 635.7 111.0 635.7 112.0 635.3 112.3 634.7 110.7 631.7 111.0 631.3 112.0 631.0 110.7 629.7 110.0 629.3 110.3 629.7 113.3 632.0 117.0 632.3 119.0 631.7 119.7 630.3 119.3 627.7 120.3 625.0 120.0 625.0 121.0 624.0 122.0 623.3 121.3 623.3 120.3 621.3 120.3 620.0 122.3 619.3 121.3 619.3 120.3 618.3 120.3 617.0 122.3 616.0 122.0 616.0 121.0 612.7 121.3 612.3 122.0 609.7 121.3 608.7 122.3 608.0 122.0 604.7 122.0 604.0 122.7 602.3 122.3 602.0 123.7 601.0 122.7 595.7 123.0 595.3 123.7 594.7 123.0 593.3 123.0 593.0 125.0 592.0 124.3 592.0 123.7 589.0 124.0 588.7 125.0 588.3 124.0 587.3 123.7 586.7 124.0 586.3 125.3 585.3 125.0 585.0 124.0 584.3 124.0 583.7 125.0 580.0 124.7 579.7 126.3 579.0 126.0 579.0 124.7 577.7 124.7 577.0 126.0 575.7 125.0 574.0 125.0 573.3 126.0 572.7 126.0 572.3 125.3 571.3 125.3 570.7 126.3 568.3 125.7 568.0 127.3 567.3 127.0 567.7 126.0 566.3 126.0 566.0 126.7 565.7 126.0 564.3 126.0 563.7 126.7 561.0 126.3 560.3 127.0 559.7 126.7 557.3 127.3ZM665.0 179.7 665.7 180.7 665.3 181.7 664.7 181.0ZM667.0 157.3 667.3 159.0 664.7 161.0 664.3 157.7ZM668.0 130.7 668.3 131.3 667.0 132.3 666.7 132.0Z"/>
<path fill="#7694b8" d="M748.3 130.7 747.7 137.3 747.7 155.7 748.3 159.0 747.7 163.7 747.7 174.7 748.3 180.7 748.7 181.3 749.7 181.3 750.3 182.0 751.3 181.7 752.0 182.3 754.3 183.0 761.7 182.7 762.3 183.3 762.7 185.3 762.7 190.3 763.0 190.7 762.7 194.0 768.3 191.7 769.0 192.3 769.3 195.7 770.0 195.7 773.0 192.7 774.7 192.0 774.7 191.3 775.7 190.3 779.0 190.7 779.7 190.0 781.3 190.3 783.7 189.7 785.7 185.0 786.0 182.0 787.0 180.7 787.0 179.0 788.3 178.3 794.0 178.0 794.7 177.3 795.3 178.0 796.3 178.0 797.0 177.3 798.0 177.7 799.7 177.0 801.3 177.3 801.7 176.7 804.0 176.7 806.3 176.0 808.0 176.3 808.7 175.7 811.7 176.0 812.3 175.3 818.0 175.7 818.7 175.0 820.7 175.7 822.7 175.3 823.0 176.0 824.3 175.3 824.7 176.0 826.0 175.7 826.3 176.3 827.7 176.0 829.0 176.7 830.7 176.3 831.0 155.0 834.0 149.7 835.3 149.0 836.3 146.7 838.0 145.7 842.0 141.7 841.7 140.7 840.3 140.7 839.7 140.0 836.0 141.0 835.3 140.3 833.3 140.3 832.7 139.7 829.7 140.0 826.7 139.0 825.3 139.3 823.7 138.3 820.7 138.7 820.0 137.7 817.7 138.0 816.7 137.3 815.7 137.7 813.3 137.3 812.7 136.0 812.0 136.0 811.3 137.0 808.3 136.0 806.3 136.3 804.7 135.3 803.7 135.3 802.7 136.0 802.0 135.0 799.3 135.0 797.3 134.3 795.0 134.7 794.7 133.7 793.0 134.0 789.0 133.0 786.0 133.3 785.3 132.3 783.7 132.7 783.3 132.0 781.7 132.3 779.7 132.0 779.3 131.3 778.3 131.7 776.0 131.3 774.7 130.3 774.7 127.7 777.3 121.3 776.3 120.7 773.3 121.0 771.3 120.0 772.0 119.7 772.0 116.7 773.3 113.3 771.3 113.3 770.3 114.7 769.7 114.7 769.3 119.3 768.7 120.0 768.0 119.3 766.7 119.3 762.7 117.7 762.7 126.0 762.3 128.0 761.7 129.0 760.3 128.3 756.0 128.3 755.3 129.3 755.0 129.0 749.7 129.3 749.7 130.0ZM814.0 147.3 814.7 148.3 814.3 149.3 813.7 148.7ZM802.3 139.3 803.0 142.0 802.7 143.3 802.0 142.3ZM769.0 123.3 769.7 124.0 769.7 127.7 769.3 129.7 768.7 130.0 767.7 129.3 768.0 128.3 767.7 126.7ZM663.3 130.3 662.3 130.3 661.3 129.3 660.0 129.7 659.7 129.0 656.0 129.0 655.3 128.3 650.0 128.7 649.0 126.3 649.0 120.3 648.7 120.0 649.0 117.7 648.0 117.7 646.7 118.3 646.3 119.0 643.3 119.7 642.7 119.0 643.0 117.7 641.7 114.3 638.3 113.3 638.3 114.3 640.0 117.0 640.3 120.3 634.3 121.3 634.3 122.7 636.0 124.3 637.0 127.7 637.0 130.3 635.7 131.7 634.3 131.0 633.7 131.7 632.7 131.3 631.7 132.3 629.0 131.7 627.7 133.0 623.3 132.7 622.3 133.7 620.0 133.3 619.0 134.3 616.3 134.0 615.7 134.7 613.3 134.3 611.0 135.3 608.7 135.0 607.3 137.0 606.7 136.7 606.7 135.7 605.7 135.3 604.3 136.7 601.3 136.3 596.7 137.7 593.0 137.7 592.0 138.3 590.3 138.3 588.7 139.0 586.3 138.7 584.0 139.7 582.0 139.3 581.0 140.3 579.7 139.7 577.7 140.0 577.0 140.7 575.0 140.0 573.7 141.0 572.3 140.3 570.7 140.3 569.7 141.0 569.7 141.7 576.7 148.7 580.7 155.0 581.3 158.0 581.0 159.7 581.0 167.0 581.3 167.3 581.0 176.0 581.3 176.7 582.7 176.7 583.3 176.0 585.0 175.7 585.7 176.0 589.3 175.7 590.7 175.0 591.0 175.7 592.0 175.3 592.7 175.7 598.7 175.3 599.7 176.0 600.7 175.7 603.7 176.0 604.0 175.7 605.0 176.3 608.7 176.7 610.7 177.3 612.3 177.0 612.7 177.7 614.7 177.3 616.3 178.0 617.0 177.3 617.7 178.0 623.3 178.3 624.7 179.7 624.7 181.0 625.7 182.0 626.3 186.3 627.7 189.0 628.7 190.0 629.7 190.0 630.0 188.3 631.0 190.3 634.0 190.0 634.7 190.7 636.0 190.7 637.0 191.7 637.7 191.7 640.7 194.7 642.3 195.3 642.3 192.0 642.7 191.7 643.7 192.3 645.0 192.0 646.0 193.0 647.0 193.0 648.3 194.3 649.0 194.3 649.3 192.7 649.0 185.3 650.3 182.7 655.7 183.0 656.3 182.3 657.3 183.0 657.3 184.0 658.0 184.0 658.3 182.7 662.3 181.7 663.3 181.0 663.7 180.0 664.0 163.7 663.3 158.3 664.0 155.3 664.0 136.7ZM642.3 124.0 644.0 125.7 644.3 128.7 643.7 130.0 642.3 128.7 642.0 127.3Z"/>
<path fill="#6c8bb1" d="M769.7 162.7 769.7 164.0 770.7 164.3 769.7 164.7 769.7 181.3 770.7 181.7 772.7 181.0 773.7 181.3 774.0 180.7 774.7 182.0 775.3 182.0 776.3 180.3 776.7 181.3 777.3 181.3 778.0 180.3 779.3 179.7 779.3 163.3 779.0 163.0 778.0 163.0 777.3 163.7 774.3 163.3 774.0 164.0 771.7 164.3 771.3 162.3ZM632.7 163.0 632.3 163.3 632.3 179.3 632.7 180.3 634.3 180.0 635.0 181.0 636.7 180.7 637.0 181.3 638.3 180.7 639.7 181.0 640.0 183.0 640.7 183.0 640.7 181.7 642.0 181.3 642.0 162.7 640.0 162.3 640.0 164.0 639.0 164.7 638.3 164.0 636.3 163.7 636.0 162.7 635.0 162.7 634.3 163.7ZM769.7 151.0 769.7 158.7 771.3 159.3 771.7 159.0 771.3 151.0ZM642.0 150.7 640.3 151.0 640.0 152.0 640.0 160.0 640.7 160.0 642.0 158.0ZM763.0 146.3 762.7 146.7 762.7 155.7 763.0 156.3 764.0 156.3 764.7 155.7 764.3 153.7 764.7 148.3 764.0 146.7ZM647.7 146.0 647.0 148.0 647.0 156.0 648.7 156.3 649.3 148.7 649.0 146.3Z"/>
<path fill="#b2c6d8" fill-opacity="0.85" fill-rule="evenodd" stroke="#f39a34" stroke-width="1.1" d="M606.8 96.5 627.1 99.2 650.6 103.0 657.3 102.9 662.5 101.6 664.2 100.2 663.6 98.7 650.7 91.0 646.8 87.7 641.9 84.5 640.2 82.6 640.3 80.4 642.2 78.5 646.2 76.8 651.4 75.7 657.5 75.2 664.2 75.4 670.1 76.3 675.4 77.8 679.3 79.7 683.1 83.0 687.7 86.1 696.6 94.6 700.2 95.9 706.1 96.4 711.7 95.9 715.4 94.6 724.3 86.0 728.9 83.0 732.9 79.6 736.8 77.7 742.1 76.2 748.5 75.4 755.2 75.2 761.2 75.8 766.3 76.9 769.9 78.5 771.8 80.5 771.8 82.6 770.2 84.5 765.3 87.7 761.3 91.0 748.4 98.7 747.8 99.5 747.9 100.3 749.6 101.6 754.9 102.9 761.5 102.9 788.4 98.7 808.7 96.1 817.2 95.6 825.1 96.0 831.5 97.1 836.0 98.8 838.1 101.0 837.7 102.6 836.1 104.1 829.0 106.7 802.6 110.4 774.7 113.2 771.9 113.9 770.0 115.0 769.5 116.2 770.3 117.2 772.4 118.3 775.7 119.0 801.5 121.5 827.4 124.9 835.4 127.5 837.5 129.1 838.1 130.8 837.5 132.0 836.2 133.1 831.6 134.9 824.8 136.0 817.0 136.4 808.9 135.9 788.3 133.3 761.4 129.0 755.0 129.1 750.0 130.2 747.9 131.7 747.8 132.5 748.4 133.3 761.4 141.1 765.2 144.3 770.3 147.6 771.8 149.5 771.7 151.8 769.6 153.7 765.8 155.2 760.6 156.3 754.5 156.8 747.8 156.6 741.9 155.7 736.6 154.2 732.7 152.3 728.9 149.0 724.3 145.9 715.4 137.4 711.8 136.1 705.9 135.6 700.3 136.1 696.6 137.4 687.7 146.0 683.1 149.0 679.1 152.4 675.2 154.3 669.9 155.8 663.5 156.6 656.8 156.8 650.8 156.2 645.7 155.1 642.1 153.5 640.2 151.5 640.2 149.4 641.8 147.5 646.7 144.3 650.7 141.0 663.6 133.3 664.2 132.5 664.1 131.7 662.4 130.4 657.1 129.1 650.5 129.1 624.0 133.2 603.3 135.9 595.7 136.4 588.2 136.1 581.9 135.2 577.1 133.8 574.4 131.9 574.0 130.1 575.4 128.3 578.5 126.6 583.3 125.2 609.9 121.6 636.5 119.0 640.5 117.9 642.3 116.6 642.4 115.6 641.5 114.6 636.9 113.1 610.0 110.4 583.8 106.9 576.8 104.6 574.7 103.1 573.9 101.7 574.5 100.0 576.4 98.6 579.8 97.3 584.3 96.3 595.0 95.6 606.8 96.5ZM603.6 98.5 649.7 105.1 659.3 105.0 667.5 103.2 670.9 100.9 671.2 99.6 670.4 98.2 657.1 90.1 653.2 86.9 648.4 83.7 647.1 82.1 647.5 80.2 649.8 78.7 653.8 77.7 658.8 77.3 666.2 78.1 672.1 80.1 682.0 87.5 689.5 95.0 692.3 96.5 696.4 97.7 701.6 98.4 713.1 98.1 718.2 97.0 722.0 95.4 730.4 87.2 740.9 79.6 744.4 78.4 748.8 77.6 757.9 77.7 761.4 78.5 763.8 79.6 764.9 81.1 764.7 82.6 754.6 90.3 741.6 98.1 740.9 99.2 740.8 100.3 742.7 102.3 746.1 103.7 750.6 104.7 761.6 105.2 790.7 100.8 810.7 98.2 817.0 97.8 826.8 98.7 829.8 99.8 831.1 101.2 830.6 102.5 828.9 103.6 822.2 105.5 769.1 111.8 765.3 113.0 763.0 114.6 762.5 116.4 763.8 118.1 767.4 119.8 772.8 121.0 798.6 123.5 823.0 126.6 829.0 128.4 830.7 129.6 831.1 130.7 829.8 132.2 826.7 133.3 821.8 134.1 816.2 134.2 790.2 131.2 762.8 126.9 753.7 126.9 745.8 128.4 741.5 130.7 740.8 132.1 741.3 133.5 755.0 141.9 758.8 145.1 763.6 148.3 764.9 149.9 764.6 151.7 762.4 153.2 758.7 154.2 754.0 154.7 746.0 154.0 739.9 151.9 730.0 144.5 722.5 137.0 719.7 135.5 715.6 134.3 710.4 133.6 699.4 133.9 693.8 135.0 690.0 136.6 681.6 144.8 671.1 152.4 667.6 153.6 663.2 154.4 654.1 154.3 650.6 153.5 648.2 152.4 647.1 150.9 647.3 149.4 657.4 141.7 670.4 133.9 671.1 132.8 671.2 131.7 669.3 129.7 666.3 128.4 662.3 127.5 652.4 126.8 646.5 127.2 623.2 131.0 598.3 134.1 587.6 133.8 583.7 132.9 581.3 131.5 580.9 130.3 582.0 129.0 587.7 126.9 612.6 123.6 640.4 120.8 646.4 119.1 648.3 118.0 649.3 116.7 649.4 115.3 648.2 113.9 645.9 112.7 642.3 111.6 590.2 105.6 583.5 103.8 581.7 102.8 580.9 101.6 581.2 100.6 582.7 99.5 588.0 98.2 595.5 97.8 603.6 98.5Z"/>
<path fill="none" stroke="#f39a34" stroke-width="0.8" opacity="0.8" d="M606.8 176.4 650.6 182.8 657.3 182.8 662.5 181.5 664.2 180.0 663.6 178.5 650.7 170.9 641.9 164.4 640.2 162.5 640.3 160.3 642.2 158.3 646.2 156.6 651.4 155.6 657.5 155.1 664.2 155.3 670.1 156.2 675.4 157.6 679.3 159.6 687.7 166.0 696.6 174.5 700.2 175.8 706.1 176.3 711.7 175.8 715.4 174.5 724.3 165.9 732.9 159.5 736.8 157.6 742.1 156.1 748.5 155.2 755.2 155.1 761.2 155.6 766.3 156.8 769.9 158.4 771.8 160.4 771.8 162.4 770.2 164.4 761.3 170.9 748.4 178.6 747.9 180.2 749.6 181.5 754.9 182.8 761.5 182.8 788.4 178.6 808.7 176.0 817.2 175.5 825.1 175.9 831.5 177.0 836.0 178.7 838.1 180.9 837.7 182.5 836.1 184.0 829.0 186.6 802.6 190.3 774.7 193.1 770.0 194.9 769.5 196.1 770.3 197.1 775.7 198.9 801.5 201.4 827.4 204.8 835.4 207.4 837.5 209.0 838.1 210.7 836.2 213.0 831.6 214.8 824.8 215.9 817.0 216.3 808.9 215.8 788.3 213.2 761.4 208.9 755.0 209.0 750.0 210.1 747.9 211.6 748.4 213.2 761.4 220.9 770.3 227.5 771.8 229.4 771.7 231.6 769.6 233.6 765.8 235.1 760.6 236.2 754.5 236.7 747.8 236.5 741.9 235.6 736.6 234.1 732.7 232.2 724.3 225.8 715.4 217.3 711.8 216.0 705.9 215.5 700.3 216.0 696.6 217.3 687.7 225.8 679.1 232.3 675.2 234.2 669.9 235.7 663.5 236.5 656.8 236.7 650.8 236.1 645.7 235.0 642.1 233.4 640.2 231.4 640.2 229.3 641.8 227.4 650.7 220.9 663.6 213.2 664.1 211.6 662.4 210.3 657.1 209.0 650.5 208.9 624.0 213.1 603.3 215.8 595.7 216.3 588.2 216.0 581.9 215.1 577.1 213.7 574.4 211.8 574.0 210.0 575.4 208.2 578.5 206.5 583.3 205.1 609.9 201.5 636.5 198.8 640.5 197.8 642.3 196.5 642.4 195.5 641.5 194.5 636.9 193.0 610.0 190.3 583.8 186.8 576.8 184.5 574.7 183.0 573.9 181.6 574.5 179.9 576.4 178.5 584.3 176.2 595.0 175.5 606.8 176.4M603.6 178.4 649.7 185.0 659.3 184.9 667.5 183.0 670.9 180.7 671.2 179.5 670.4 178.1 657.1 170.0 648.4 163.6 647.1 162.0 647.5 160.1 649.8 158.6 653.8 157.6 658.8 157.2 666.2 158.0 672.1 160.0 682.0 167.4 689.5 174.9 692.3 176.4 701.6 178.3 713.1 178.0 718.2 176.9 722.0 175.2 730.4 167.1 740.9 159.5 748.8 157.5 757.9 157.5 763.8 159.5 764.9 160.9 764.7 162.5 754.6 170.2 741.6 178.0 740.9 179.1 740.8 180.2 742.7 182.2 746.1 183.6 750.6 184.6 761.6 185.1 790.7 180.6 817.0 177.7 826.8 178.6 829.8 179.7 831.1 181.1 830.6 182.4 828.9 183.5 822.2 185.4 769.1 191.6 765.3 192.9 763.0 194.5 762.5 196.2 763.8 197.9 767.4 199.7 772.8 200.8 798.6 203.4 823.0 206.5 829.0 208.3 830.7 209.5 831.1 210.6 829.8 212.1 826.7 213.2 816.2 214.1 790.2 211.1 762.8 206.8 753.7 206.8 745.8 208.3 741.5 210.6 740.8 212.0 741.3 213.4 755.0 221.8 763.6 228.1 764.9 229.8 764.6 231.5 762.4 233.1 758.7 234.1 754.0 234.5 746.0 233.9 739.9 231.8 730.0 224.4 722.5 216.9 719.7 215.4 710.4 213.5 699.4 213.7 693.8 214.9 690.0 216.5 681.6 224.6 671.1 232.3 663.2 234.3 654.1 234.2 648.2 232.3 647.1 230.8 647.3 229.3 657.4 221.6 670.4 213.8 671.1 212.7 671.2 211.6 669.3 209.6 662.3 207.3 652.4 206.6 598.3 214.0 587.6 213.7 583.7 212.8 581.3 211.4 580.9 210.2 582.0 208.9 587.7 206.8 612.6 203.5 640.4 200.7 646.4 199.0 649.3 196.6 649.4 195.2 648.2 193.8 642.3 191.5 590.2 185.5 583.5 183.7 581.7 182.7 580.9 181.5 581.2 180.4 582.7 179.4 588.0 178.1 595.5 177.7 603.6 178.4M664.2 99.9 664.2 179.8M640.0 81.6 640.0 161.5M772.0 81.4 772.0 161.3M747.8 99.7 747.8 179.6M838.1 101.4 838.1 181.3M769.5 115.9 769.5 195.8M838.1 130.6 838.1 210.4M747.8 132.1 747.8 212.0M772.0 150.4 772.0 230.3M640.0 150.6 640.0 230.5M664.2 132.3 664.2 212.1M573.9 130.6 573.9 210.5M642.5 116.1 642.5 196.0M573.9 101.4 573.9 181.3M671.2 99.9 671.2 179.8M647.0 81.6 647.0 161.5M765.0 81.5 765.0 161.3M740.8 99.7 740.8 179.6M831.1 101.4 831.1 181.3M762.5 115.9 762.5 195.8M831.1 130.6 831.1 210.5M740.8 132.1 740.8 212.0M765.0 150.4 765.0 230.3M647.0 150.5 647.0 230.4M671.2 132.3 671.2 212.2M580.9 130.6 580.9 210.5M649.5 116.1 649.5 196.0M580.9 101.4 580.9 181.3"/>
<path fill="none" stroke="#3a8ef2" stroke-width="0.85" d="M581.1 91.8 618.8 97.8M647.1 89.0 626.9 76.8 625.3 74.6 625.9 72.3 627.9 70.6 631.1 69.1 640.3 67.0 652.0 66.5 662.8 67.6 668.3 69.1 672.3 71.1 685.9 84.1M726.2 84.0 739.8 71.0 743.6 69.1 749.0 67.7 759.8 66.5 771.5 67.0 780.8 69.1 784.0 70.6 786.0 72.2 786.7 74.6 785.1 76.7 764.7 89.1M793.4 97.8 832.0 91.7 842.3 91.0 851.2 91.6 858.7 93.1 864.0 95.4 866.3 98.1 865.9 100.1 863.7 102.0 859.9 103.7 855.2 105.0 809.2 109.8M809.4 122.2 855.4 127.1 863.6 129.9 865.7 131.7 866.3 133.8 865.5 135.3 863.9 136.7 858.5 138.9 850.9 140.4 842.0 141.0 831.7 140.3 793.2 134.2M764.9 143.0 785.1 155.2 786.7 157.4 786.1 159.7 784.1 161.4 780.9 162.9 771.7 165.0 760.0 165.5 749.2 164.4 743.7 162.9 739.7 160.9 726.1 147.9M685.8 148.0 672.2 161.0 668.4 162.9 663.0 164.3 652.2 165.5 640.5 165.0 631.2 162.9 628.0 161.4 626.0 159.8 625.3 157.4 626.9 155.3 647.3 142.9M618.6 134.2 580.0 140.3 569.7 141.0 560.8 140.4 553.3 138.9 548.0 136.6 545.7 133.9 546.1 131.9 548.3 130.0 552.1 128.3 556.8 127.0 602.8 122.2M602.6 109.8 557.4 105.1 549.1 102.5 546.8 100.8 545.7 99.1 546.1 97.2 548.3 95.2 556.5 92.3 568.6 91.1 580.7 91.8M578.0 93.8 615.6 99.8M653.4 88.0 633.6 76.1 632.3 74.5 632.6 72.9 636.6 70.5 643.9 68.9 652.7 68.7 660.8 69.8 666.1 72.1 679.2 84.8M732.9 84.7 746.0 72.1 751.1 69.9 759.1 68.7 767.9 68.9 775.3 70.4 779.3 72.8 779.7 74.5 778.3 76.2 758.5 88.1M796.6 99.7 834.2 93.7 840.4 93.2 847.2 93.5 853.1 94.5 857.4 96.1 859.3 98.3 858.9 99.7 857.3 101.1 850.8 103.3 807.1 107.7M807.3 124.3 850.7 128.7 857.2 130.8 858.9 132.2 859.3 133.7 857.6 135.7 853.5 137.4 847.6 138.5 840.6 138.8 834.3 138.3 796.4 132.2M758.6 144.0 778.4 155.9 779.7 157.5 779.4 159.1 775.4 161.5 768.1 163.1 759.3 163.3 751.2 162.2 745.9 159.9 732.8 147.2M679.1 147.3 666.0 159.9 660.9 162.1 652.9 163.3 644.1 163.1 636.7 161.6 632.7 159.2 632.3 157.5 633.7 155.8 653.5 143.9M615.4 132.3 577.8 138.3 571.6 138.8 564.8 138.5 558.9 137.5 554.6 135.9 552.7 133.7 553.1 132.3 554.7 130.9 561.2 128.7 604.9 124.3M604.7 107.7 561.9 103.4 555.5 101.5 553.6 100.3 552.7 98.9 553.0 97.6 554.6 96.2 560.4 94.1 569.0 93.2 577.7 93.7M593.8 134.2 616.0 137.4M646.3 128.1 633.7 120.6 633.0 119.6 633.4 118.5 637.5 116.0 644.9 114.2 654.3 113.4 664.4 113.8 671.9 114.8 676.6 116.1 684.6 123.2M727.3 123.2 735.3 116.1 740.6 114.7 747.9 113.8 758.0 113.4 766.9 114.2 774.4 116.0 778.6 118.5 779.0 119.6 778.4 120.6 765.8 128.1M795.9 137.5 817.7 134.3 827.9 134.8 837.2 135.9 844.5 137.6 849.2 139.7 851.2 142.1 850.9 143.4 849.7 144.7 844.3 146.6 834.6 147.0 811.9 149.3M811.8 162.5 834.8 165.0 838.5 166.1 844.1 168.1 848.5 170.5 850.7 172.7 851.1 174.9 849.1 177.1 845.2 178.7 839.7 179.8 833.1 180.2 825.3 179.5 817.5 177.7 796.0 174.4M765.7 183.7 776.4 190.5 777.9 192.2 778.9 194.2 778.9 196.1 778.1 197.8 776.3 199.4 771.0 201.7 763.6 202.9 755.2 203.1 747.2 202.0 742.0 200.5 738.1 198.5 727.4 188.7M684.7 188.6 674.0 198.4 670.1 200.5 664.9 202.0 657.0 203.1 648.6 203.0 641.2 201.7 635.8 199.4 634.0 197.8 633.1 196.1 633.1 194.3 634.0 192.3 635.5 190.6 646.2 183.7M616.1 174.4 594.3 177.8 586.9 179.5 578.7 180.2 572.0 179.8 566.6 178.7 562.6 176.9 560.9 174.8 561.2 172.7 563.5 170.5 567.4 168.3 572.9 166.3 577.1 165.1 600.1 162.5M600.2 149.3 577.2 147.0 568.2 146.6 563.1 145.1 560.9 142.8 561.1 141.4 562.7 139.8 569.3 137.1 580.3 135.2 593.4 134.2M664.2 99.8 664.2 159.5M640.0 141.2 639.8 136.9 638.5 132.2 628.8 110.5 625.9 101.8 625.3 97.0 625.2 74.0M786.8 74.0 786.7 97.0 786.1 101.8 783.2 110.5 773.5 132.2 772.2 137.1 772.0 141.2M747.8 159.5 747.8 99.8M866.3 98.6 866.3 121.7 864.8 127.4 862.4 131.4 858.7 136.0 840.7 153.8 838.4 157.6 838.1 161.1M769.5 175.7 769.5 116.0M866.3 133.4 866.3 156.5 864.7 162.2 862.1 166.1 858.5 169.8 840.3 184.1 838.3 187.0 838.1 190.3M747.8 191.9 747.8 132.2M786.8 158.0 786.7 180.9 786.0 185.6 782.6 192.4 773.2 203.8 772.1 206.5 772.0 210.2M640.0 210.2 639.9 206.5 638.8 203.8 629.3 192.3 626.0 185.6 625.3 180.9 625.2 158.0M664.2 132.2 664.2 191.9M573.9 190.2 573.7 187.1 571.7 184.1 553.5 169.8 549.9 166.1 547.3 162.2 545.7 156.5 545.7 133.4M642.5 116.0 642.5 175.7M573.9 161.1 573.6 157.6 571.3 153.8 553.1 135.8 549.6 131.4 547.2 127.4 545.7 121.7 545.7 98.6"/>
<path fill="none" stroke="#3a8ef2" stroke-width="0.9" d="M545.7 97.3 545.3 98.3 545.3 123.3 547.3 128.3 547.3 130.0 546.0 131.3 545.3 133.0 545.3 158.0 546.7 162.0 549.0 165.7 554.7 171.3 568.3 181.3 572.7 185.7 573.3 187.0 573.3 209.0 574.0 211.7 577.3 214.0 581.7 215.3 588.7 216.0 589.0 216.3 600.3 216.3 600.7 216.0 606.0 215.7 613.0 214.3 624.3 213.3 624.7 213.0 629.0 212.7 630.3 212.0 633.0 212.0 634.3 211.3 639.0 211.0 639.7 211.7 639.7 230.7 640.0 231.7 643.3 234.3 648.3 236.0 652.7 236.3 653.0 236.7 656.3 236.7 656.7 237.0 660.3 237.0 660.7 236.7 667.3 236.3 674.3 234.7 678.7 232.7 682.3 229.3 688.0 225.7 696.3 217.3 698.7 216.3 702.0 216.0 702.3 215.7 710.0 215.7 713.3 216.3 715.3 217.3 723.7 225.7 729.3 229.3 732.0 232.0 736.3 234.3 737.3 234.3 741.0 235.7 743.0 235.7 744.3 236.3 754.7 237.0 755.0 236.7 763.0 236.0 766.7 235.0 769.0 234.0 771.7 231.7 772.0 230.3 772.0 211.3 772.3 211.0 776.3 211.3 780.7 212.3 783.0 212.3 787.7 213.3 789.7 213.3 790.0 213.7 796.3 214.0 796.7 214.3 803.3 215.0 808.0 216.0 810.7 216.0 811.0 216.3 823.3 216.3 823.7 216.0 828.3 215.7 833.7 214.3 836.3 213.0 838.0 211.0 838.0 209.3 838.3 209.0 838.3 187.0 839.0 185.7 843.3 181.3 857.0 171.3 862.7 165.7 865.0 162.0 866.3 157.7 866.3 133.3 865.7 131.3 864.3 130.0 864.3 128.3 865.7 125.7 866.3 123.0 866.3 98.3 866.0 97.0 864.0 95.0 858.7 92.7 857.3 92.7 856.3 92.0 854.7 92.0 851.0 91.0 835.3 90.7 835.0 91.0 832.3 91.0 830.7 91.7 828.3 91.7 826.7 92.3 824.0 92.3 819.7 93.3 813.3 94.0 811.7 94.7 809.3 94.7 807.7 95.3 805.3 95.3 804.0 96.0 801.0 96.0 800.7 96.3 798.7 96.3 796.7 97.0 794.7 97.0 792.7 97.7 787.3 98.3 787.0 98.0 787.0 75.7 786.7 75.3 786.7 73.0 785.7 71.3 784.3 70.3 781.0 68.7 779.0 68.0 777.3 68.0 776.3 67.3 767.7 66.3 767.3 66.0 757.3 66.0 757.0 66.3 753.7 66.3 753.3 66.7 747.7 67.3 741.0 69.7 739.3 70.7 715.7 94.0 714.0 95.0 709.0 96.0 700.3 95.7 698.7 95.3 696.0 94.0 672.3 70.7 670.0 69.3 666.3 68.0 658.0 66.3 644.7 66.0 644.3 66.3 641.0 66.3 637.3 67.3 634.0 67.7 627.3 70.3 625.3 72.3 624.7 75.3 624.7 97.7 624.3 98.0 620.7 98.0 619.0 97.3 616.7 97.3 615.0 96.7 613.0 96.7 604.3 95.0 601.7 95.0 600.3 94.3 597.7 94.3 596.0 93.7 594.0 93.7 585.7 92.0 582.7 92.0 581.3 91.3 579.0 91.3 576.3 90.7 563.7 90.7 563.3 91.0 561.0 91.0 557.3 92.0 554.0 92.3 550.0 93.7 547.7 95.0Z"/>
<ellipse cx="706" cy="121" rx="139" ry="49" fill="none" stroke="#f0922a" stroke-width="1.5" transform="rotate(1.5 706 121)"/>
<g id="pin">
 <path d="M833.5 137.2 L853 122.2" stroke="#b0661a" stroke-width="4.6" stroke-linecap="round"/>
 <path d="M833 136.5 L852.5 121.5" stroke="#f5a21c" stroke-width="3" stroke-linecap="round"/>
 <circle cx="834" cy="136.8" r="2.8" fill="#f7b51e"/>
 <circle cx="853" cy="122.2" r="5.3" fill="#f6b718"/>
 <path d="M851 118 L861.5 115.2 L857 125.5 Z" fill="#7a4a1a"/>
</g>

<path fill="#778f9b" d="M888.0 412.0 887.0 410.7 885.0 409.7 881.7 409.0 881.3 408.7 880.0 408.7 879.7 408.3 878.0 408.3 877.7 408.0 871.3 407.7 871.0 407.3 853.3 407.3 853.0 407.0 853.0 390.0 852.0 389.0 848.7 387.7 846.0 387.3 845.7 387.0 844.3 387.0 844.0 386.7 839.3 386.3 839.0 386.0 834.3 386.0 834.0 385.7 823.3 385.7 823.0 386.0 818.3 386.0 818.0 386.3 813.3 386.7 813.0 387.0 811.3 387.0 811.0 387.3 809.7 387.3 809.3 387.7 804.7 388.3 803.0 389.0 801.7 389.0 801.3 389.3 800.0 389.3 799.7 389.7 798.3 389.7 798.0 390.0 796.3 390.0 794.7 390.7 793.3 390.7 793.0 391.0 791.7 391.0 791.3 391.3 790.0 391.3 789.7 391.7 788.3 391.7 788.0 392.0 786.7 392.0 786.3 392.3 785.0 392.3 784.7 392.7 783.3 392.7 783.0 393.0 778.3 393.7 776.7 394.3 775.3 394.3 775.0 394.7 773.7 394.7 773.3 395.0 772.0 395.0 771.7 395.3 770.3 395.3 770.0 395.7 768.7 395.7 768.3 396.0 767.0 396.0 766.7 396.3 762.0 397.0 761.7 397.3 759.0 397.7 757.3 398.3 753.3 398.7 753.0 398.3 753.0 380.0 751.7 378.7 749.3 377.7 747.3 377.3 747.0 377.0 743.7 376.7 743.3 376.3 741.3 376.3 741.0 376.0 738.3 376.0 738.0 375.7 732.3 375.7 732.0 375.3 725.0 375.3 724.7 375.7 718.7 375.7 718.3 376.0 713.3 376.3 713.0 376.7 709.7 377.0 709.3 377.3 707.3 377.7 705.0 378.7 704.0 379.7 704.0 396.0 702.7 397.0 699.3 397.3 699.0 397.7 688.7 397.7 688.3 397.3 686.7 397.3 683.0 396.0 682.0 396.0 679.3 395.0 678.3 395.0 676.0 394.0 673.7 393.7 670.0 392.3 667.7 392.0 664.0 390.7 661.7 390.3 658.0 389.0 657.0 389.0 656.7 388.7 655.7 388.7 652.0 387.3 651.0 387.3 648.3 386.3 647.3 386.3 645.0 385.3 642.7 385.0 641.3 384.3 640.0 384.3 639.7 384.0 636.7 383.7 636.3 383.3 634.3 383.3 634.0 383.0 625.7 382.7 625.3 382.3 617.3 382.3 617.0 382.7 611.7 382.7 611.3 383.0 608.7 383.0 608.3 383.3 606.3 383.3 606.0 383.7 604.3 383.7 604.0 384.0 602.7 384.0 601.3 384.7 600.3 384.7 598.0 385.7 597.0 386.7 597.0 403.0 596.7 403.3 580.0 403.0 579.7 402.7 563.0 402.7 562.7 403.0 558.7 403.0 558.3 403.3 556.0 403.3 555.7 403.7 554.3 403.7 554.0 404.0 552.3 404.0 552.0 404.3 549.7 404.7 548.7 405.3 548.0 405.3 546.7 406.0 545.7 407.3 545.7 430.0 546.0 430.3 546.0 431.7 546.3 432.0 546.7 433.7 547.7 435.7 550.7 439.7 557.3 445.7 559.0 446.7 562.0 449.3 563.3 450.0 564.7 451.3 570.0 455.3 575.0 460.7 575.7 462.0 575.7 484.7 576.3 485.3 579.3 486.7 582.3 487.0 582.7 487.3 584.3 487.3 584.7 487.7 586.7 487.7 587.0 488.0 590.7 488.0 591.0 488.3 604.3 488.3 604.7 488.7 604.7 502.3 605.3 503.3 608.3 504.7 611.3 505.0 611.7 505.3 613.7 505.3 614.0 505.7 617.3 505.7 617.7 506.0 630.3 506.0 630.7 505.7 634.7 505.7 635.0 505.3 639.7 505.0 640.0 504.7 641.7 504.7 642.0 504.3 643.3 504.3 643.7 504.0 645.0 504.0 645.3 503.7 646.7 503.7 647.0 503.3 648.7 503.3 649.0 503.0 650.7 503.0 651.0 502.7 653.0 502.7 653.3 502.3 657.0 502.0 657.3 501.7 658.7 501.7 659.0 501.3 660.3 501.3 660.7 501.0 662.0 501.0 662.3 500.7 663.7 500.7 664.0 500.3 665.3 500.3 665.7 500.0 667.0 500.0 667.3 499.7 672.0 499.0 672.3 498.7 675.0 498.3 675.3 498.0 676.7 498.0 677.0 497.7 679.7 497.7 680.0 497.3 686.3 497.3 687.3 498.0 687.3 510.7 689.3 512.3 690.0 512.3 691.3 513.0 694.0 513.3 694.3 513.7 695.7 513.7 696.0 514.0 702.3 514.3 702.7 514.7 711.3 514.7 711.7 514.3 715.7 514.3 716.0 514.0 718.3 514.0 718.7 513.7 722.0 513.3 722.3 513.0 724.3 512.7 727.0 511.3 728.0 510.0 728.0 508.0 729.0 507.0 729.3 505.3 729.7 505.0 729.7 500.0 730.3 499.3 732.3 499.0 732.7 498.7 735.0 498.7 735.3 498.3 744.3 498.3 744.7 498.7 746.7 498.7 747.0 499.0 750.3 499.7 752.7 500.7 753.7 500.7 754.0 501.0 755.0 501.0 758.7 502.3 761.0 502.7 762.3 503.3 763.3 503.3 765.0 504.0 766.3 504.0 768.0 504.7 769.3 504.7 769.7 505.0 771.0 505.0 771.3 505.3 775.0 506.0 776.3 506.7 779.0 507.0 779.3 507.3 780.7 507.3 781.0 507.7 782.7 507.7 783.0 508.0 789.0 508.3 789.3 508.7 803.3 508.7 803.7 508.3 806.7 508.3 807.0 508.0 809.0 508.0 809.3 507.7 812.0 507.3 813.0 506.7 814.3 506.3 815.3 505.3 815.3 492.3 815.7 492.0 832.7 492.0 833.0 492.3 837.0 492.3 837.3 492.0 844.3 492.0 844.7 491.7 848.0 491.7 848.3 491.3 852.3 491.0 852.7 490.7 855.0 490.3 857.3 489.3 858.0 488.7 858.0 466.0 859.3 463.7 865.3 458.0 869.3 455.0 870.7 454.3 877.3 449.3 879.0 447.7 879.3 447.7 884.3 442.7 887.0 438.3 887.0 437.7 887.7 436.3 887.7 434.7 888.0 434.3Z"/>
<path fill="#8099a6" d="M887.0 412.0 885.0 410.3 877.7 408.7 871.0 408.3 870.7 408.0 853.7 408.0 853.0 407.7 851.3 405.7 851.3 393.7 852.0 392.3 852.0 390.0 848.7 388.3 838.7 386.7 823.7 386.3 811.3 387.7 803.0 389.7 762.0 397.7 757.7 399.0 753.7 399.3 750.7 397.0 743.7 396.7 742.3 395.7 751.0 385.0 752.0 382.0 752.0 380.0 751.3 379.3 747.0 377.7 737.7 376.3 732.0 376.3 731.7 376.0 719.0 376.3 709.7 377.7 707.3 378.3 705.0 379.7 704.7 380.3 704.7 395.7 703.3 397.3 699.3 398.3 686.7 398.0 676.0 394.7 647.3 387.0 645.0 386.0 636.3 384.0 630.3 383.3 625.3 383.3 625.0 383.0 617.7 383.0 617.3 383.3 612.0 383.3 606.3 384.0 600.3 385.3 598.0 386.7 598.3 401.7 598.0 402.7 596.3 404.0 579.7 403.7 579.3 403.3 563.7 403.3 552.3 404.7 547.0 406.7 546.7 407.3 547.0 430.0 548.0 433.3 550.3 437.0 557.0 443.3 571.0 454.0 575.0 458.0 576.3 460.0 577.0 461.7 577.0 484.0 581.0 486.0 587.0 487.0 604.3 487.3 605.0 487.7 606.0 489.3 606.0 501.7 606.7 502.7 610.0 504.0 614.0 504.7 630.3 505.0 639.0 504.0 646.0 502.3 654.3 501.3 676.0 496.7 686.3 496.3 687.3 496.7 688.7 498.3 688.7 510.0 689.7 511.0 693.0 512.3 698.7 513.3 711.3 513.7 721.0 512.3 724.7 511.0 726.3 509.3 726.3 507.7 727.3 504.3 727.3 489.0 726.7 485.0 726.7 478.0 728.0 471.3 729.0 469.7 729.7 471.7 729.7 497.7 734.7 497.7 735.0 497.3 747.0 497.7 764.0 502.7 774.3 504.7 778.0 506.0 783.0 507.0 789.3 507.7 803.0 507.7 811.7 506.0 813.7 504.7 813.7 493.0 815.0 491.0 832.7 491.0 833.0 491.3 844.0 491.0 851.3 490.0 856.3 488.0 856.3 466.0 857.3 463.7 864.7 456.3 878.3 446.3 883.0 441.7 885.3 438.0 886.3 434.3 886.3 415.0 887.0 413.7ZM825.7 432.3 826.0 431.7 828.0 432.0 827.3 432.7ZM654.7 420.0 654.7 421.3 652.0 423.0 647.0 423.7 615.3 430.3 602.3 431.0 597.0 430.3 591.7 430.3 590.0 430.0 588.7 429.0 589.3 428.0 592.0 427.3 597.0 427.3 650.3 419.3 654.0 419.3ZM876.7 412.0 877.3 411.3 878.3 411.3 879.0 412.0 878.0 412.7ZM554.0 407.0 555.7 406.0 560.7 406.0 561.7 406.7 561.7 408.0 560.7 408.7 556.0 408.7 554.7 408.3ZM733.0 398.3 735.0 399.0 737.3 401.0 737.3 418.0 736.3 419.0 734.7 419.7 733.3 419.7 732.0 418.7 732.3 399.3ZM842.0 390.3 843.7 390.0 844.0 390.7 842.3 391.0ZM820.0 390.0 820.0 393.7 819.0 394.7 817.3 395.3 775.3 401.3 770.7 402.7 769.3 403.7 769.3 405.7 771.3 407.7 774.3 409.7 774.3 411.0 771.3 413.0 767.0 413.7 765.0 415.3 765.3 417.3 769.7 421.0 769.7 423.7 769.0 424.3 765.3 424.3 761.3 422.7 759.3 421.0 759.3 402.0 760.3 401.0 764.3 399.3 781.0 396.3 782.7 395.7 807.3 391.0 815.7 389.0 819.0 389.0ZM634.3 387.3 635.0 386.7 636.3 386.7 671.0 396.7 677.3 398.0 679.7 399.0 681.0 400.7 681.0 416.7 680.7 417.3 679.3 418.3 671.7 418.7 667.7 420.7 666.0 420.7 663.3 421.7 660.0 421.7 659.7 422.0 657.7 421.7 657.0 421.0 657.0 419.0 659.7 417.3 662.0 416.7 664.3 414.3 664.0 412.7 661.3 410.3 661.7 407.3 667.3 404.7 669.3 403.0 669.3 401.7 668.0 400.3 664.0 399.0 636.0 393.7 634.3 392.3ZM605.0 387.0 606.3 386.0 611.3 385.7 612.7 386.7 612.7 388.0 611.7 388.7 608.0 388.7 605.7 388.0ZM741.3 382.0 741.3 380.3 742.0 379.7 743.7 379.7 744.3 380.3 743.0 382.0 742.3 382.3ZM718.3 378.7 719.7 379.7 719.3 401.0 721.0 404.0 723.3 413.3 723.0 419.3 721.0 422.7 721.0 423.7 722.0 425.3 722.7 429.7 722.3 438.3 718.7 440.3 713.3 442.0 707.0 441.7 702.3 440.3 700.3 442.0 694.3 441.7 690.3 440.7 688.7 439.7 688.3 439.0 688.7 438.0 698.3 426.0 700.7 424.0 702.7 424.0 702.7 401.0 704.0 400.0 710.3 397.3 711.7 395.7 711.3 394.3 711.3 380.3 713.3 379.0Z"/>
<path fill="#88a3b1" d="M689.3 490.3 689.0 491.0 689.3 509.3 690.7 511.0 693.3 512.0 698.7 513.0 711.0 513.3 718.7 512.3 721.0 511.7 722.3 510.7 722.3 492.0 721.0 490.3 715.7 489.0 691.0 489.3ZM886.7 411.7 883.3 410.0 875.3 408.7 853.7 408.3 851.0 406.3 848.3 405.7 847.7 404.3 847.7 396.3 848.0 395.3 851.7 392.3 852.0 390.3 848.0 388.3 839.3 387.0 823.7 386.7 823.3 387.0 818.3 387.0 812.7 387.7 754.3 399.7 751.7 398.3 742.0 397.3 741.0 396.3 741.0 395.3 750.3 384.3 751.7 382.0 751.7 380.0 749.7 378.7 746.3 377.7 738.0 376.7 732.3 376.7 732.0 376.3 725.0 376.3 724.7 376.7 718.7 376.7 709.0 378.0 705.7 379.3 705.0 380.0 705.0 395.3 703.7 397.3 701.0 398.3 699.0 398.7 687.0 398.3 675.3 394.7 637.0 384.3 625.7 383.7 625.3 383.3 611.7 383.7 603.3 384.7 600.0 385.7 598.0 387.0 598.0 388.7 599.0 390.7 599.0 401.7 596.3 404.3 580.0 404.0 579.7 403.7 558.3 404.0 550.3 405.3 547.3 406.7 546.7 407.7 548.0 412.0 548.0 430.7 548.7 432.7 550.0 434.7 554.3 438.7 568.0 447.7 575.0 453.0 578.3 456.3 579.7 458.3 580.0 461.0 577.7 464.7 577.7 483.7 578.7 484.7 584.7 486.3 590.7 487.0 604.3 487.0 605.0 486.3 604.7 480.7 603.0 477.3 598.7 473.0 594.3 470.0 585.0 462.0 581.0 456.7 580.3 455.0 580.3 453.0 580.7 452.7 580.7 448.3 581.3 447.0 581.3 433.0 581.7 432.7 582.0 433.0 582.3 452.3 584.3 455.7 586.7 457.7 590.7 460.0 594.3 461.0 597.7 462.7 601.7 463.0 604.7 464.3 606.3 465.7 608.3 465.7 613.7 468.3 615.3 470.7 617.0 470.7 618.7 471.7 619.0 472.3 618.7 475.7 617.7 477.7 615.7 479.7 611.7 481.3 607.3 482.0 606.0 483.7 606.0 486.7 606.7 488.3 606.7 501.7 608.3 503.0 612.0 504.0 617.3 504.7 634.0 504.3 646.3 501.7 651.3 501.3 656.7 500.3 661.3 499.0 671.0 497.3 674.7 496.0 675.7 496.3 687.7 496.0 687.7 488.7 687.0 485.0 682.3 471.7 681.0 465.0 681.3 464.0 680.7 460.7 680.7 442.7 681.3 441.7 682.7 443.7 682.7 463.3 684.3 466.7 686.7 469.0 689.7 470.7 693.0 471.7 695.0 471.3 696.7 470.3 697.3 470.7 697.3 471.7 698.0 471.7 700.0 470.3 700.7 471.0 700.3 472.7 701.7 473.3 702.7 473.3 704.0 472.3 705.0 473.0 706.3 472.7 708.0 473.0 709.3 471.0 711.0 473.7 715.0 473.0 720.7 470.0 723.0 467.3 724.3 464.7 724.7 462.7 724.7 444.0 727.7 442.0 729.7 439.7 729.3 425.0 730.0 424.0 731.0 424.0 731.7 424.7 731.7 496.7 732.0 497.0 744.3 497.0 749.3 497.7 753.7 499.3 768.7 503.3 772.0 503.7 781.3 506.3 789.0 507.3 803.0 507.3 808.7 506.3 811.0 505.0 811.0 486.7 810.7 486.0 804.7 483.0 802.0 482.3 798.0 479.7 797.3 479.7 795.7 477.7 796.3 474.7 795.7 474.7 795.3 474.0 797.0 472.7 799.7 472.3 804.0 469.3 809.0 469.0 817.7 465.7 820.3 465.7 826.7 462.3 830.0 459.7 831.3 457.7 831.3 438.3 831.7 437.0 832.7 436.0 836.0 434.0 837.0 434.7 837.0 456.3 836.0 459.7 833.3 464.0 825.7 471.7 820.3 476.0 816.3 481.0 815.7 483.0 815.7 490.3 816.3 490.7 832.7 490.7 833.0 491.0 844.0 490.7 849.0 490.0 853.7 488.3 854.0 487.0 854.0 471.0 853.7 469.3 851.7 465.7 852.0 463.7 853.7 460.7 856.3 458.0 865.3 451.3 876.3 444.0 881.3 439.0 882.7 436.0 882.7 417.0 886.7 413.7ZM577.0 453.0 578.0 452.7 578.7 453.7 577.7 454.0ZM880.3 412.0 879.7 413.0 878.0 413.7 867.7 415.0 837.0 414.3 834.7 413.7 827.0 414.0 822.7 413.3 821.0 413.7 810.7 413.3 810.3 413.0 806.7 413.3 806.3 413.0 798.3 413.0 798.0 412.7 789.7 412.7 786.7 412.0 780.0 412.0 778.0 412.7 774.7 412.7 766.7 414.7 765.7 415.7 766.3 417.7 768.7 419.0 818.0 428.7 819.7 429.3 826.3 430.3 828.3 431.0 829.3 432.0 828.7 433.0 827.3 433.7 819.7 435.0 802.3 434.7 792.7 432.3 771.3 426.0 765.3 425.0 753.0 420.7 747.7 420.0 738.0 419.7 735.7 420.3 729.3 420.3 725.7 421.0 722.3 422.7 723.3 429.0 723.3 438.3 722.3 439.7 717.0 441.7 711.7 442.7 705.3 442.0 701.7 442.0 699.0 442.7 691.0 441.3 689.3 440.7 688.0 439.3 688.0 438.3 700.7 423.0 700.7 422.0 699.7 421.0 696.0 419.7 692.0 419.0 679.7 419.0 679.3 419.3 672.0 419.7 664.0 422.0 657.3 422.7 651.0 424.3 647.7 424.7 616.0 431.3 609.0 431.7 608.7 432.0 596.3 431.7 591.7 431.0 588.7 430.0 588.0 429.3 588.0 428.3 590.3 427.0 637.7 420.3 640.0 419.7 644.7 419.3 651.7 418.0 657.0 417.7 661.3 416.3 663.0 415.3 663.7 413.7 662.3 412.3 655.7 410.3 652.7 410.0 645.3 410.0 645.0 410.3 621.7 410.3 621.3 410.0 618.7 410.3 597.3 410.3 597.0 410.0 595.7 410.3 564.7 410.3 556.0 409.3 554.3 408.7 553.3 407.7 553.3 406.7 556.0 405.3 560.0 404.7 576.3 404.3 576.7 404.7 586.3 404.7 586.7 405.0 595.7 405.0 596.0 405.3 616.3 405.7 619.3 406.3 626.7 406.0 627.0 406.3 644.7 406.7 646.3 407.3 657.7 407.0 661.3 406.3 667.0 404.3 668.0 403.0 668.0 402.0 667.0 401.0 663.7 400.0 635.3 394.7 621.3 391.3 608.0 389.3 605.7 388.7 604.3 387.7 604.3 386.7 605.7 385.7 613.7 384.3 628.3 384.3 634.0 385.0 675.0 396.7 677.3 397.0 680.3 398.3 687.0 399.7 693.7 400.0 705.7 398.7 708.7 397.7 711.0 396.0 710.7 381.0 712.0 379.0 715.0 378.0 720.7 377.3 735.0 377.3 743.7 378.7 745.3 380.0 744.7 381.7 739.3 387.3 732.7 395.7 733.3 397.3 736.3 399.0 743.0 400.3 755.0 400.7 757.7 400.0 760.0 400.0 765.7 398.3 780.3 395.7 801.7 391.0 806.7 390.3 816.3 388.0 825.7 387.7 826.0 387.3 836.0 387.7 841.3 388.3 844.7 389.3 845.3 390.7 843.7 392.0 826.7 394.3 815.0 396.7 812.7 396.7 799.0 399.0 775.7 402.0 771.0 403.3 770.0 404.3 770.7 406.3 771.7 407.0 780.7 409.3 868.7 409.0 878.0 410.3 879.7 411.0Z"/>
<path fill="#91adbc" d="M701.0 494.0 700.0 494.3 699.7 495.0 699.7 511.3 701.0 512.0 704.7 512.0 705.0 511.7 705.0 495.0 704.3 494.3ZM684.7 489.3 684.7 494.0 685.3 494.0 685.3 489.3ZM788.0 488.0 787.3 489.0 787.3 505.0 787.7 505.7 792.7 506.3 794.0 505.7 793.7 500.7 791.0 501.0 789.7 499.3 789.7 488.0ZM616.0 485.7 615.7 486.0 615.7 502.7 616.7 503.3 620.0 503.7 621.3 503.0 621.3 501.0 618.7 501.0 617.3 499.3 617.3 486.0ZM588.7 483.7 588.7 485.3 594.7 486.0 596.3 485.3 596.3 483.7 595.3 483.0 593.0 483.0 592.0 482.0 591.3 482.0 590.0 483.7ZM830.7 470.7 829.7 470.7 824.3 475.7 823.7 477.3 823.7 488.7 824.7 489.3 831.0 489.3 831.7 488.7 831.0 485.7 831.0 471.7ZM547.0 407.3 547.3 409.0 550.7 411.0 555.0 412.3 558.0 412.3 559.3 413.3 560.7 413.3 562.0 412.7 563.0 413.3 574.0 413.0 575.3 413.7 583.7 413.7 585.0 413.0 586.3 413.0 587.7 413.7 596.0 413.7 597.3 413.0 598.7 413.0 600.0 413.7 608.3 413.7 609.7 413.0 611.0 413.0 612.3 413.7 620.7 413.7 622.0 413.0 623.3 413.0 624.7 413.7 633.0 413.7 634.3 413.0 635.7 413.0 637.0 413.7 640.7 413.7 642.0 413.0 645.0 413.0 646.7 413.7 647.3 414.3 646.7 415.3 643.3 416.7 638.3 416.3 635.3 417.7 631.3 417.3 625.0 418.3 623.3 419.3 620.0 419.0 613.0 420.0 610.3 421.3 606.0 421.0 600.0 422.0 598.3 423.0 594.7 422.7 588.0 423.7 586.0 425.0 583.0 425.0 581.0 426.0 579.7 427.3 579.7 428.7 583.0 431.3 585.0 432.3 592.3 434.7 594.0 434.3 596.3 434.7 607.0 434.3 608.3 434.7 608.7 434.3 617.0 434.0 623.3 432.3 625.0 432.3 648.0 427.3 662.7 424.7 664.3 424.0 671.0 423.0 675.7 421.7 683.3 422.3 684.7 423.3 684.7 430.0 684.0 432.0 680.3 437.3 680.3 439.0 682.3 441.0 684.7 442.3 693.0 445.0 694.0 445.0 695.0 444.3 697.0 444.7 699.3 444.3 701.3 445.0 709.3 444.7 709.7 444.3 717.0 444.3 726.0 442.0 728.7 440.0 728.7 435.3 728.0 430.3 728.7 424.3 730.0 423.0 731.0 422.7 736.3 422.7 740.0 423.3 741.3 424.7 741.3 495.7 742.0 496.0 743.7 495.7 743.7 424.3 744.3 423.7 748.3 423.0 751.7 424.3 785.0 433.3 800.0 438.0 801.3 437.7 815.3 438.0 815.7 437.7 824.0 437.3 833.0 435.0 838.0 431.7 839.0 433.0 839.3 439.7 841.0 440.0 843.0 438.7 843.0 418.3 844.3 417.3 845.3 417.3 847.0 418.7 847.0 436.7 848.0 438.7 848.0 440.0 848.7 440.0 850.0 438.0 851.3 438.0 852.0 438.7 854.7 438.3 856.7 439.3 858.3 437.7 858.3 419.0 860.0 417.7 870.3 417.7 878.0 416.7 883.7 415.0 886.7 413.0 886.7 412.0 884.7 410.7 878.3 409.3 878.3 410.0 879.7 410.3 881.0 412.0 880.0 413.3 874.3 415.0 868.0 415.7 806.7 414.0 806.3 413.7 797.3 413.7 797.0 413.3 788.7 413.3 788.3 413.0 774.3 413.3 768.0 414.7 766.7 415.3 766.3 416.7 768.3 418.3 827.3 430.0 829.0 430.7 830.0 432.0 828.0 434.0 819.3 435.7 802.7 435.3 791.7 432.7 772.7 427.0 765.0 425.3 753.0 421.3 742.7 420.3 732.0 420.7 725.7 421.7 723.0 423.0 723.0 424.3 724.0 425.7 724.3 438.0 722.7 440.0 720.0 441.3 712.3 443.0 709.0 443.0 708.7 442.7 698.3 443.0 691.0 441.7 688.7 440.7 687.3 439.3 688.7 436.7 700.0 423.0 699.7 421.7 696.0 420.3 691.7 419.7 673.7 420.0 664.3 422.3 656.7 423.3 652.0 424.7 647.0 425.3 615.3 432.0 608.3 432.3 608.0 432.7 597.3 432.3 592.3 431.7 588.0 430.0 587.3 428.3 588.3 427.3 590.0 426.7 608.7 423.7 611.0 423.7 615.7 422.7 631.7 420.7 634.0 420.0 657.3 417.0 661.0 416.0 663.0 414.3 663.0 413.7 661.0 412.3 655.0 411.0 651.0 411.0 650.7 410.7 649.3 411.0 621.0 411.0 620.7 410.7 619.7 411.0 565.0 411.0 558.7 410.3 554.0 409.0 552.7 407.7 554.0 405.0 551.0 405.3ZM692.7 423.3 691.0 425.0 688.0 427.0 687.3 426.7 687.0 424.3 688.0 422.7 689.0 422.3 692.3 422.3ZM821.0 416.3 822.3 416.7 823.3 417.7 823.3 425.0 822.3 426.0 820.3 425.7 819.3 424.3 819.3 417.7ZM797.3 415.7 798.7 416.0 799.7 417.0 799.7 420.3 798.7 421.3 796.7 421.0 795.7 419.7 795.7 417.0ZM786.7 415.7 787.7 415.3 789.7 416.7 789.7 418.3 788.7 419.3 787.3 419.3 786.3 418.7 785.7 417.0ZM773.0 416.0 774.0 415.3 783.0 415.7 784.0 416.3 784.0 417.3 783.7 417.7 775.0 417.7 773.7 417.3ZM651.7 414.3 652.3 413.7 655.0 413.7 655.7 414.3 654.7 415.0 653.0 415.0ZM851.7 390.3 850.3 389.3 847.3 388.3 844.0 388.0 844.0 388.7 844.7 388.7 846.0 390.0 846.0 390.7 845.3 391.7 842.0 393.0 775.0 402.7 771.0 404.0 771.0 405.7 774.0 407.3 781.3 408.7 785.3 408.7 785.7 408.3 852.0 408.3 851.7 407.3 845.3 406.7 784.0 406.7 783.7 406.3 780.0 406.3 777.3 405.3 777.3 404.7 778.3 404.0 782.3 404.0 786.7 403.0 845.0 394.7 850.7 392.7 851.7 391.7ZM637.0 384.7 637.0 385.3 673.3 395.3 680.0 397.7 684.3 398.3 684.3 397.7 649.3 388.0 644.7 386.3ZM598.3 387.0 598.3 388.7 599.3 389.7 604.3 391.7 647.7 400.3 651.0 400.7 657.0 402.3 659.7 402.3 660.0 403.0 655.7 404.0 649.0 404.3 648.7 404.0 641.0 404.0 640.7 403.7 603.0 402.7 602.7 403.0 598.7 403.0 597.3 404.0 597.3 404.7 616.7 405.0 619.7 405.7 621.0 405.3 637.0 405.7 637.3 406.0 645.0 406.0 647.3 406.7 654.0 406.7 664.3 405.0 666.7 404.0 667.3 403.0 667.0 401.7 664.3 400.7 634.3 395.0 621.3 392.0 607.3 389.7 605.3 389.0 603.7 387.0 604.7 385.7 605.7 385.3 605.7 384.7 601.7 385.3ZM743.7 377.7 743.7 378.3 744.7 378.7 746.0 380.0 745.7 381.3 733.7 395.3 733.7 396.7 736.0 398.3 740.0 399.3 752.0 399.7 752.0 399.0 750.7 398.7 746.0 398.7 742.3 398.0 740.0 396.3 741.0 394.3 745.0 389.3 748.3 386.0 751.7 381.3 751.7 380.3 750.0 379.0ZM712.7 377.7 706.7 379.0 705.0 380.7 705.3 394.7 704.7 396.7 703.3 397.7 703.3 398.3 708.3 397.3 710.7 395.7 710.3 380.7 710.7 379.7 712.7 378.3Z"/>
<path fill="#9fbece" d="M725.0 440.3 722.7 440.7 721.7 441.3 721.7 442.0 724.0 441.7 725.0 441.0ZM828.0 429.0 828.0 429.7 829.3 430.0 831.0 432.0 830.7 433.0 828.7 434.3 828.7 435.0 832.0 434.3 835.0 432.3 835.0 431.0 832.7 429.7ZM589.3 432.0 589.3 431.3 588.7 431.3 586.3 429.3 586.3 428.3 588.0 426.7 589.0 426.3 589.0 425.7 584.0 426.7 582.0 427.7 582.0 428.7 584.0 430.7 586.7 431.7ZM750.3 422.0 750.3 422.7 784.7 432.0 789.3 433.7 796.7 435.3 796.7 434.7 792.3 433.7 769.7 427.0 765.7 426.3 753.7 422.3ZM729.0 422.0 726.7 422.3 726.7 423.0 728.0 423.3 729.0 422.7ZM698.3 422.0 695.3 421.0 693.3 421.0 693.3 421.7 694.3 422.7 694.0 424.3 690.7 427.3 682.0 438.0 682.0 438.7 683.3 440.3 686.0 441.7 688.7 442.0 688.7 441.3 686.3 439.3 686.3 438.7 696.3 425.7 698.7 423.3ZM772.3 418.3 772.3 417.7 771.3 417.0 772.0 414.7 768.0 415.7 768.0 416.7 768.7 417.3ZM656.7 412.3 656.7 413.0 657.7 414.0 656.7 416.0 658.3 416.0 660.7 414.7 660.3 413.0ZM879.3 415.0 884.7 413.7 886.0 412.7 886.0 412.0 884.3 411.0 881.3 410.3 881.7 412.7 880.3 414.0 879.3 414.3ZM547.7 407.3 547.7 408.3 549.3 409.3 554.0 410.3 554.0 409.7 552.0 408.0 552.3 405.7 549.3 406.3ZM773.0 404.3 773.0 405.3 774.0 406.3 777.0 407.0 777.0 406.3 776.0 405.7 776.7 403.3 774.0 403.7ZM661.3 401.0 661.3 401.7 662.3 402.7 661.3 404.7 663.7 404.3 665.7 403.3 665.3 402.0ZM844.7 393.3 846.3 393.3 850.3 392.0 851.0 391.3 851.0 390.3 849.3 389.3 846.7 389.0 846.7 391.0 845.7 392.3 844.7 392.7ZM598.7 387.3 598.7 388.0 600.7 389.3 605.3 390.3 605.3 389.7 603.0 387.3 603.3 385.7 600.0 386.3ZM750.3 379.7 747.7 378.7 746.3 378.7 746.7 381.0 744.3 384.3 744.3 385.3 742.7 386.3 738.3 391.3 736.7 394.0 734.7 395.7 734.7 396.3 737.7 398.0 740.0 398.3 740.0 397.7 738.3 396.3 738.7 395.0 741.7 392.0 741.7 391.3 744.3 388.3 744.3 387.7 746.7 386.7 751.0 381.3 751.0 380.3ZM710.0 378.7 707.0 379.3 705.7 380.3 705.3 381.7 705.3 390.7 705.7 391.0 705.3 397.0 709.0 396.3 710.0 395.3 709.7 394.0Z"/>
<path fill="none" stroke="#4b5a63" stroke-width="0.6" d="M641.2 384.6 686.2 397.3 691.9 397.9 698.0 397.8 702.6 397.1 704.7 395.9 704.0 380.5 704.6 379.5 705.8 378.7 711.9 376.9 721.2 375.8 731.9 375.7 741.9 376.4 749.6 378.0 752.0 379.1 753.0 380.2 752.7 381.3 740.0 396.6 740.6 397.4 742.7 398.1 749.9 398.9 757.7 398.3 815.0 386.7 827.8 385.9 840.8 386.5 850.4 388.5 852.7 389.8 853.2 391.1 850.9 392.9 845.5 394.4 780.7 403.7 777.7 404.6 776.9 405.5 779.8 406.9 786.1 407.5 870.9 407.6 877.7 408.3 883.3 409.4 886.9 410.8 888.0 412.4 886.4 414.1 882.2 415.5 875.7 416.6 867.9 417.2 783.5 414.6 776.0 415.2 773.5 415.8 772.4 416.6 773.0 417.5 775.1 418.2 831.3 429.3 835.3 430.7 836.9 432.2 836.1 433.8 832.7 435.2 826.9 436.5 819.9 437.2 807.6 437.3 796.9 436.3 747.8 422.7 740.6 422.0 732.9 422.6 730.3 423.3 729.3 424.1 730.0 439.4 729.2 440.7 725.7 442.2 719.9 443.4 712.4 444.2 703.7 444.4 695.6 444.0 688.6 443.0 683.6 441.7 681.2 440.1 681.2 438.7 694.0 423.4 692.9 422.3 688.9 421.5 682.8 421.1 676.9 421.6 622.1 432.8 613.6 433.8 602.2 434.1 591.5 433.3 583.9 431.6 581.7 430.6 580.7 429.4 581.1 428.3 582.6 427.3 588.5 425.6 653.1 416.3 655.8 415.7 657.1 414.9 656.6 414.0 654.5 413.2 647.1 412.5 564.6 412.5 557.3 411.8 551.4 410.8 547.6 409.5 546.0 407.9 546.2 407.0 547.2 406.1 551.3 404.6 557.9 403.4 566.1 402.8 650.5 405.4 657.4 404.9 661.4 403.6 661.2 402.7 658.9 401.8 602.4 390.6 598.4 389.1 597.0 387.6 598.1 386.1 601.5 384.7 607.1 383.5 613.8 382.9 628.7 382.8 641.2 384.6M635.6 385.4 681.3 398.3 690.5 399.3 700.5 399.1 708.0 398.0 711.6 396.3 711.0 380.5 712.0 379.4 716.3 378.0 722.8 377.2 730.6 377.0 738.1 377.6 744.1 378.9 745.6 379.8 746.0 380.7 733.3 396.1 733.1 397.1 734.8 398.3 738.0 399.2 749.4 400.3 762.4 399.4 818.7 387.9 827.8 387.3 837.1 387.7 844.1 389.1 845.9 390.1 846.2 391.0 844.3 392.4 839.9 393.5 775.3 402.8 771.1 404.1 770.0 404.9 769.9 405.6 771.3 406.8 774.2 407.7 784.4 408.9 868.8 409.0 877.7 410.2 880.2 411.3 881.0 412.4 879.9 413.6 876.8 414.6 866.6 415.8 782.6 413.2 770.7 414.2 766.9 415.4 765.4 416.5 766.3 417.9 769.4 419.0 825.4 430.1 828.6 431.1 829.9 432.3 829.3 433.4 826.8 434.5 817.5 435.8 807.9 435.9 799.7 434.9 750.8 421.4 739.6 420.6 728.3 421.5 724.0 422.7 722.3 424.0 723.0 439.4 722.5 440.2 720.1 441.4 715.8 442.3 704.2 443.0 693.2 442.0 689.7 441.0 688.1 439.9 688.2 438.9 701.0 423.5 700.6 422.5 698.8 421.6 692.2 420.2 682.0 419.7 672.6 420.5 617.5 431.7 612.3 432.4 604.2 432.7 596.1 432.2 590.2 431.0 588.5 430.2 587.7 429.4 588.0 428.6 589.1 427.8 593.3 426.6 657.7 417.3 661.8 416.4 664.0 415.1 664.1 414.3 663.3 413.5 659.8 412.3 654.1 411.4 647.5 411.1 566.9 411.1 557.2 410.0 554.2 409.0 553.0 407.9 553.7 406.6 556.8 405.5 567.4 404.2 651.4 406.8 662.7 405.9 666.6 404.9 668.5 403.6 668.6 403.0 668.0 402.3 664.9 401.1 608.6 389.9 605.2 388.8 604.0 387.6 604.8 386.5 607.2 385.5 616.0 384.2 626.7 384.2 635.6 385.4"/>
<path fill="none" stroke="#53626b" stroke-width="0.6" d="M704.7 398.1 704.7 443.1M704.0 397.2 704.0 380.6M753.0 380.5 753.0 399.2M752.1 410.9 751.4 415.0M740.0 420.8 740.0 399.0M853.3 390.8 853.3 407.9M776.9 413.8 776.9 407.7M888.0 412.3 888.0 434.0 887.2 437.9 885.1 441.8 881.5 445.8 863.7 459.7 858.8 464.9 858.1 467.0 858.1 488.4M837.0 432.5 837.0 454.4 836.4 457.7 834.8 461.3 832.2 465.0 819.3 477.0 815.9 481.4 815.4 483.5 815.4 505.1M729.3 440.3 729.3 424.2M728.0 509.5 728.1 484.7 729.7 460.2 729.7 504.6M730.0 439.4 729.9 463.5 728.1 484.8 728.0 509.9M687.4 510.2 687.2 485.5 686.1 480.9 682.2 469.8 681.1 463.8 681.0 439.5M694.0 423.3 694.0 432.2M605.0 502.4 605.0 480.9 604.4 478.9 600.6 474.3 586.1 462.0 583.1 458.2 581.4 454.5 580.7 450.7 580.7 429.2M657.1 416.9 657.1 424.3M575.9 484.5 575.9 463.1 575.2 461.0 570.2 455.5 552.4 441.2 548.9 437.2 546.8 433.3 546.0 429.6 546.0 407.7M661.6 405.5 661.6 413.2M597.3 411.6 597.0 404.4M597.0 403.9 597.0 387.5M711.7 472.2 711.7 443.9M711.7 443.1 711.7 395.8M711.0 380.6 711.0 396.6M746.0 390.5 746.0 380.5M733.0 396.7 733.0 421.5M769.9 405.4 769.9 414.8M861.7 452.3 865.7 449.3M867.1 448.3 871.1 445.4M765.4 416.8 765.4 425.5M722.3 424.2 722.3 441.3M701.0 469.3 701.0 443.7M701.0 443.2 701.0 423.3M664.1 422.5 664.1 414.6M564.3 442.0 569.0 445.6M574.5 450.0 580.3 456.0M668.6 421.6 668.6 403.2"/>
<path fill="none" stroke="#5a6a73" stroke-width="0.6" d="M888.0 412.0 887.0 410.7 885.0 409.7 877.7 408.0 871.3 407.7 871.0 407.3 853.3 407.3 853.0 407.0 853.0 390.0 852.0 389.0 848.7 387.7 844.0 386.7 839.3 386.3 839.0 386.0 823.3 385.7 823.0 386.0 818.3 386.0 818.0 386.3 813.3 386.7 778.3 393.7 776.7 394.3 762.0 397.0 757.3 398.3 753.3 398.7 753.0 398.3 753.0 380.0 751.7 378.7 747.0 377.0 741.3 376.3 741.0 376.0 732.3 375.7 732.0 375.3 725.0 375.3 724.7 375.7 718.7 375.7 718.3 376.0 713.3 376.3 713.0 376.7 709.7 377.0 705.0 378.7 704.0 379.7 704.0 396.0 702.7 397.0 699.3 397.3 699.0 397.7 688.7 397.7 688.3 397.3 686.7 397.3 676.0 394.0 673.7 393.7 670.0 392.3 667.7 392.0 664.0 390.7 647.3 386.3 645.0 385.3 642.7 385.0 641.3 384.3 636.3 383.3 634.3 383.3 634.0 383.0 625.7 382.7 625.3 382.3 617.3 382.3 617.0 382.7 608.7 383.0 600.3 384.7 598.0 385.7 597.0 386.7 597.0 403.0 596.7 403.3 580.0 403.0 579.7 402.7 563.0 402.7 562.7 403.0 558.7 403.0 558.3 403.3 552.3 404.0 546.7 406.0 545.7 407.3 545.7 430.0 546.7 433.7 547.7 435.7 550.7 439.7 557.3 445.7 570.0 455.3 575.0 460.7 575.7 462.0 575.7 484.7 579.3 486.7 584.7 487.7 586.7 487.7 587.0 488.0 604.3 488.3 604.7 488.7 604.7 502.3 605.3 503.3 608.3 504.7 613.7 505.3 614.0 505.7 630.3 506.0 630.7 505.7 634.7 505.7 635.0 505.3 639.7 505.0 647.0 503.3 657.0 502.0 677.0 497.7 686.3 497.3 687.3 498.0 687.3 510.7 688.3 511.7 691.3 513.0 696.0 514.0 702.3 514.3 702.7 514.7 711.3 514.7 711.7 514.3 715.7 514.3 716.0 514.0 722.0 513.3 727.0 511.3 728.0 510.0 728.0 508.0 729.0 507.0 729.7 505.0 729.7 500.0 730.3 499.3 732.7 498.7 735.0 498.7 735.3 498.3 746.7 498.7 762.3 503.3 771.0 505.0 776.3 506.7 783.0 508.0 789.0 508.3 789.3 508.7 803.3 508.7 803.7 508.3 806.7 508.3 812.0 507.3 814.3 506.3 815.3 505.3 815.3 492.3 815.7 492.0 832.7 492.0 833.0 492.3 844.3 492.0 844.7 491.7 848.0 491.7 848.3 491.3 852.3 491.0 857.3 489.3 858.0 488.7 858.0 466.0 858.7 464.7 865.3 458.0 879.3 447.7 884.3 442.7 887.0 438.3 888.0 434.3Z"/>
<!-- triad 1 -->
<g id="triad1">
 <path d="M426 225 L426 171 L448 153 L448 206.7 Z" fill="#f6f0ea" stroke="#cfae8e" stroke-width="0.7"/>
 <path d="M426 225 L426 171 L478 178.3 L478 231.3 Z" fill="#f4ede6" fill-opacity="0.85" stroke="#cfae8e" stroke-width="0.7"/>
 <path d="M426 225 L478 231.3 L501.3 212.5 L448 206.7 Z" fill="#f8f3ee" fill-opacity="0.9" stroke="#cfae8e" stroke-width="0.7"/>
 <path d="M426 225 L426 121" stroke="#9a7a5a" stroke-width="0.8"/>
 <path d="M426 225 L529.7 238.6" stroke="#b08a68" stroke-width="0.9"/>
 <path d="M426 225 L470 187.5" stroke="#b08a68" stroke-width="0.8"/>
 <path d="M425.5 143 L422.5 156.5 L428.5 156.5 Z" fill="#3b82e0"/>
 <path d="M426 153 L426 225" stroke="#4a8ae0" stroke-width="1.2"/>
 <path d="M425.5 119.5 L422.8 129.5 L428.2 129.5 Z" fill="#d08a3a"/>
 <path d="M508 236 L494 230.5 L494.5 238.5 Z" fill="#e2352a"/>
 <path d="M531 238.8 L520 234.6 L520 240.6 Z" fill="#d09a50"/>
 <path d="M451 202.5 L459.5 195 L461 201 Z" fill="#2fa13a"/>
 <circle cx="456.5" cy="199.5" r="3.2" fill="#2fa13a"/>
 <path d="M470 188.5 L462 191 L466 195 Z" fill="#b0703a"/>
 <circle cx="466" cy="191.8" r="2.6" fill="#b0703a"/>
 <g fill="#b89878" font-family="Liberation Sans" font-size="8"><text x="422.5" y="111">Z</text><text x="539" y="243">X</text><text x="472.5" y="186">Y</text></g>
</g>
<!-- triad 2 -->
<g id="triad2">
 <path d="M432.8 477.6 L432.8 422 L477.7 413.6 L477.7 468.4 Z" fill="#f6f0ea" stroke="#cfae8e" stroke-width="0.7"/>
 <path d="M432.8 477.6 L432.8 422 L469.3 429.7 L469.3 485.4 Z" fill="#f4ede6" fill-opacity="0.85" stroke="#cfae8e" stroke-width="0.7"/>
 <path d="M432.8 477.6 L469.3 485.4 L513.3 477.6 L477.7 468.4 Z" fill="#f8f3ee" fill-opacity="0.9" stroke="#cfae8e" stroke-width="0.7"/>
 <path d="M432.8 477.6 L432.8 368" stroke="#9a7a5a" stroke-width="0.8"/>
 <path d="M432.8 477.6 L504.6 494.7" stroke="#b08a68" stroke-width="0.9"/>
 <path d="M432.8 477.6 L521 462.2" stroke="#b08a68" stroke-width="0.8"/>
 <path d="M432.5 392.5 L429.5 405.5 L435.5 405.5 Z" fill="#3b82e0"/>
 <path d="M432.8 400 L432.8 477" stroke="#4a8ae0" stroke-width="1.2"/>
 <path d="M432.5 366 L429.8 376.5 L435.2 376.5 Z" fill="#d08a3a"/>
 <path d="M488 491.5 L477 486.5 L477.5 493.5 Z" fill="#e2352a"/><circle cx="481" cy="490" r="3" fill="#e2352a"/>
 <path d="M505 495 L496 490.5 L496.5 496.5 Z" fill="#a8743c"/>
 <path d="M502 466 L490 464 L491 470.5 Z" fill="#2fa13a"/><circle cx="494" cy="467" r="3" fill="#2fa13a"/>
 <path d="M522 462 L511 459.5 L512 466 Z" fill="#a8743c"/>
 <g fill="#b89878" font-family="Liberation Sans" font-size="8"><text x="429.5" y="358">Z</text><text x="509" y="500">X</text><text x="528" y="462">Y</text></g>
</g>
<!-- blue arrow -->
<path d="M716 255.5 H721.2 V322.5 H730.4 L718.4 357.5 L706.8 322.5 H716 Z" fill="#3d8ff4"/>
<!-- dimension -->
<g id="dim">
 <path d="M514.5 27 L514.5 92" stroke="#6c7378" stroke-width="0.8"/>
 <path d="M510 59.3 L575 68.4" stroke="#6c7378" stroke-width="0.8"/>
 <path d="M518 91.5 L576 99.5" stroke="#6c7378" stroke-width="0.8"/>
 <text x="510" y="23" font-family="Liberation Sans" font-size="7.5" fill="#5a5f66">10</text>
 <path d="M514.5 61.5 L511 75.5 Q514.5 77.5 519.5 75.5 Z" fill="#5fd0f0"/>
 <path d="M514.5 61.5 L516.5 76.5 L519.5 75.5 Z" fill="#3a9ec8"/>
 <path d="M514.5 82.5 L509.4 92.5 Q515 94.5 521.2 92.5 Z" fill="#5fd0f0"/>
 <path d="M514.5 82.5 L517 93.5 L521.2 92.5 Z" fill="#3a9ec8"/>
</g>
<!-- callouts -->
<g fill="#fff" stroke="#f27f1c" stroke-width="1.8">
 <rect x="368.5" y="55.5" width="105" height="24" rx="5"/>
 <rect x="810.5" y="34.5" width="87" height="21.3" rx="5"/>
 <rect x="803.5" y="238.5" width="101" height="21.1" rx="5"/>
</g>
<g fill="#fff" stroke="#f27f1c" stroke-width="1">
 <path d="M473.5 64.8 L511.5 67.3 L473.5 70.3"/>
 <path d="M838.5 55.8 L816.9 85.3 L849.7 55.8"/>
 <path d="M842.7 238.5 L833.6 210.4 L853.9 238.5"/>
</g>
<g fill="#fff">
 <path d="M472 65.6 L474.5 65.6 L474.5 69.5 L472 69.5 Z"/>
 <path d="M839.5 54 L849 54 L849 57 L839.5 57 Z"/>
 <path d="M843.5 237 L853 237 L853 240 L843.5 240 Z"/>
</g>
<g fill="#f27f1c" font-family="Liberation Sans" font-size="15" letter-spacing="1.1" stroke="#f27f1c" stroke-width="0.25">
 <text x="379.5" y="72.8">Odsunięcie</text>
 <text x="826.5" y="50">Krzywa</text>
 <text x="816" y="253.3">Geometria</text>
</g>

</svg>
</body></html>
